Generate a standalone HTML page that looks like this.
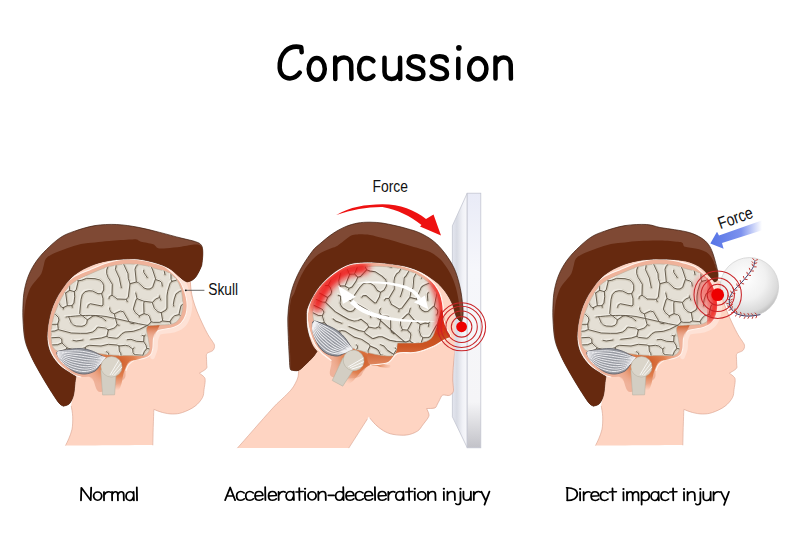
<!DOCTYPE html>
<html><head><meta charset="utf-8"><style>
html,body{margin:0;padding:0;background:#fff;}
body{width:800px;height:545px;overflow:hidden;position:relative;}
svg{position:absolute;left:0;top:0;}
</style></head><body>
<svg width="800" height="545" viewBox="0 0 800 545">
<defs>
<linearGradient id="glassL" x1="0" y1="0" x2="1" y2="0"><stop offset="0" stop-color="#e4e6ef"/><stop offset="0.3" stop-color="#d8dbe4"/><stop offset="0.7" stop-color="#f1f2f7"/><stop offset="1" stop-color="#f8f8fb"/></linearGradient>
<linearGradient id="glassF" x1="0" y1="0" x2="0" y2="1"><stop offset="0" stop-color="#e9ebf7"/><stop offset="0.3" stop-color="#f6f7fb"/><stop offset="0.82" stop-color="#f5f5f7"/><stop offset="1" stop-color="#c2c2c8"/></linearGradient>
<radialGradient id="ball" cx="0.42" cy="0.36" r="0.72"><stop offset="0" stop-color="#ffffff"/><stop offset="0.5" stop-color="#f1f1f1"/><stop offset="0.8" stop-color="#dadada"/><stop offset="1" stop-color="#aaaaaa"/></radialGradient>
<linearGradient id="blue" x1="710" y1="0" x2="762" y2="0" gradientUnits="userSpaceOnUse"><stop offset="0" stop-color="#5574e6"/><stop offset="0.6" stop-color="#7d92ee"/><stop offset="1" stop-color="#ffffff"/></linearGradient>
<radialGradient id="orng" cx="0.5" cy="0.25" r="0.6"><stop offset="0" stop-color="#cf5a26"/><stop offset="0.5" stop-color="#e0804f"/><stop offset="1" stop-color="#f0ae94" stop-opacity="0"/></radialGradient>
<linearGradient id="notch" x1="0" y1="0" x2="0" y2="1"><stop offset="0" stop-color="#c9531f"/><stop offset="1" stop-color="#efb29a" stop-opacity="0"/></linearGradient>
<clipPath id="brainclip"><path d="M130,264 C134.5,264.1 140.8,264.8 145,265.5 C149.2,266.2 151,267.3 155,268.5 C159,269.7 165.3,270.9 168.8,272.7 C172.3,274.5 174.1,276.5 176.1,279.1 C178.1,281.7 179.6,284.9 180.7,288.3 C181.8,291.7 182.2,296 182.5,299.3 C182.8,302.6 182.9,305.2 182.6,308 C182.3,310.8 181.5,313.7 180.5,316 C179.5,318.3 178.3,320.4 176.5,321.8 C174.7,323.2 172.5,323.9 169.6,324.4 C166.7,324.9 163,324.8 159.3,325 C155.7,325.2 149.6,325.6 147.7,325.7 C147.5,326.4 146.3,327.2 146.4,329.6 C146.5,332 148,336.6 148.5,340 C149,343.4 149.9,347.5 149.3,350 C148.7,352.5 146.7,354.1 145,355 C143.3,355.9 142.8,355.4 139,355.5 C135.2,355.6 128,355.7 122.5,355.5 C117,355.3 111.5,355.1 106,354.5 C100.5,353.9 95,352.9 89.5,352 C84,351.1 77.6,349.2 73,349 C68.4,348.8 64.9,350.8 62,351 C59.1,351.2 57.2,351.2 55.5,350 C53.8,348.8 52.7,347.3 52,344 C51.3,340.7 51.2,334.7 51.5,330 C51.8,325.3 52.6,320.8 54,316 C55.4,311.2 57.8,305.6 60,301 C62.2,296.4 65,291.8 67.5,288.5 C70,285.2 71.2,283.9 75,281.5 C78.8,279.1 84.8,276.3 90,274 C95.2,271.7 101.3,269 106,267.5 C110.7,266 114,265.6 118,265 C122,264.4 125.5,263.9 130,264Z"/></clipPath>
<radialGradient id="redglow"><stop offset="0" stop-color="#ff1010" stop-opacity="0.95"/><stop offset="0.5" stop-color="#f22" stop-opacity="0.6"/><stop offset="1" stop-color="#f33" stop-opacity="0"/></radialGradient>
<clipPath id="brain2clip"><path d="M348,269 C352.2,267.6 357.5,267.4 362,267 C366.5,266.6 370.3,266.3 375,266.3 C379.7,266.3 385.3,266.5 390,267 C394.7,267.5 399,268.5 403,269.5 C407,270.5 411,271.8 414,273 C417,274.2 418.7,275.5 421,277 C423.3,278.5 425.9,280.1 428,282 C430.1,283.9 431.9,286.2 433.5,288.5 C435.1,290.8 436.5,293.4 437.5,296 C438.5,298.6 439.1,301.2 439.5,304 C439.9,306.8 440.1,310 439.8,313 C439.5,316 439.1,318.1 437.9,322 C436.7,325.9 434.8,333.3 432.4,336.7 C429.9,340.1 427.5,341.1 423.2,342.2 C418.9,343.2 411,342.9 406.7,343 C402.4,343.1 399,343 397.5,343 C396.9,345 396.9,353 393.9,355 C390.9,357 383.9,355.5 379.3,355 C374.7,354.5 370.6,353.2 366,352 C361.4,350.8 355.7,349.5 351.4,347.5 C347.1,345.5 344.4,342.9 340,340 C335.6,337.1 329.2,333 325,330 C320.8,327 316.5,325.3 314.5,322 C312.5,318.7 312.8,313.7 313,310 C313.2,306.3 314.2,303.2 315.5,300 C316.8,296.8 318.5,293.8 320.5,291 C322.5,288.2 324.8,285.6 327.5,283 C330.2,280.4 333.6,277.8 337,275.5 C340.4,273.2 343.8,270.4 348,269Z"/></clipPath>
<clipPath id="skull3clip"><path d="M179.8,281 C181.5,283.4 182.3,285.6 183.4,288.3 C184.5,291 185.6,294.4 186.2,297.4 C186.8,300.3 187.3,303.1 187.2,306 C187.1,308.9 186.8,312.1 185.8,315 C184.8,317.9 183.2,321 181.1,323.1 C179,325.2 177,326.4 173.4,327.6 C169.8,328.8 162.3,329.2 159.3,330.2 C156.3,331.2 156.4,332 155.4,333.4 C154.4,334.8 153.9,335.9 153.5,338.5 C153.1,341.1 153.3,346 152.8,348.8 C152.3,351.6 151.8,353.6 150.3,355.2 C148.8,356.8 146.4,357.7 143.9,358.5 C141.4,359.3 138.1,358.9 135.6,359.8 C133.1,360.8 130.7,362.4 129,364.2 C127.3,366 126.7,368.2 125.7,370.8 C124.7,373.4 127.3,376.5 123,380 C118.7,383.5 105.2,392.3 100,392 C94.8,391.7 95.1,380.5 92,378 C88.9,375.5 84.5,377.6 81.3,377 C78.1,376.4 76.3,376.3 73,374.5 C69.7,372.7 64.8,369.3 61.5,366.2 C58.2,363.1 55.4,359.9 53.2,356 C51,352.1 49.3,347.4 48.3,343 C47.3,338.6 47.1,334.1 47.4,329.3 C47.7,324.5 48.5,319.6 50,314.4 C51.5,309.2 54,302.9 56.5,298 C59,293.1 62,288.1 64.8,284.7 C67.5,281.2 68.9,279.8 73,277.3 C77.1,274.8 84,272.2 89.5,269.9 C95,267.6 100.9,265 106,263.3 C111.1,261.6 116,260.5 120,259.8 C124,259.1 125.9,258.8 130,259 C134.1,259.2 140.6,260.1 144.8,260.8 C149,261.5 151.8,262.4 155,263.3 C158.2,264.2 161.1,264.6 164.2,266.3 C167.2,268 170.7,271.2 173.3,273.6 C175.9,276.1 178.1,278.6 179.8,281Z"/></clipPath>
<clipPath id="skull2clip"><path d="M307.3,319.4 C307.1,315.5 307.7,311.1 308.5,307.5 C309.3,303.9 310.7,300.8 312,298 C313.3,295.2 314.9,293.1 316.5,290.8 C318.1,288.6 319.7,286.6 321.5,284.5 C323.3,282.4 325.6,280.2 327.5,278.5 C329.4,276.8 331.2,275.4 333,274 C334.8,272.6 336.7,271.4 338.5,270.2 C340.3,269 342.2,267.9 344,267 C345.8,266.1 347.7,265.3 349.5,264.7 C351.3,264.1 353.2,263.9 355,263.6 C356.8,263.3 357.2,263.1 360.5,262.9 C363.8,262.7 370.1,262.4 375,262.5 C379.9,262.6 385.3,262.9 390,263.5 C394.7,264.1 399,265 403,266 C407,267 410.9,268.2 414,269.5 C417.1,270.8 419.4,272 421.9,273.5 C424.4,275 426.8,276.6 429,278.5 C431.2,280.4 433.2,282.5 435,285 C436.8,287.5 438.8,290.5 440,293.5 C441.2,296.5 441.9,299.8 442.5,303 C443.1,306.2 443.2,309.8 443.5,313 C443.8,316.2 443.8,319.2 444.5,322 C445.2,324.8 446.5,327.6 447.5,330 C448.5,332.4 451.4,335 450.7,336.7 C450,338.4 446.1,338.9 443.4,340.4 C440.6,341.9 438.8,343.9 434.2,345.9 C429.6,347.9 422,351.1 415.9,352.3 C409.8,353.5 402.1,351.5 397.5,353.2 C392.9,354.9 392.9,360.4 388.3,362.4 C383.7,364.4 374.1,363.6 370,365 C365.9,366.4 366.1,368.6 364,370.7 C361.9,372.8 362.6,376.4 357.2,377.4 C351.8,378.4 335.7,379.4 331.4,376.6 C327.1,373.8 332.9,364.5 331.3,360.6 C329.7,356.7 324.8,355.8 322,353.1 C319.2,350.4 316.8,348 314.7,344.3 C312.6,340.6 310.7,335.2 309.5,331.1 C308.3,327 307.5,323.3 307.3,319.4Z"/></clipPath>
<g id="tex" fill="none" stroke-linecap="round" stroke-linejoin="round"><path d="M159.3,353.0 163.7,351.3 165.7,348.3 M144.0,301.3 137.3,298.7 M67.3,265.3 71.0,269.3 76.3,279.3 78.3,280.7 M189.3,316.0 191.0,318.0 M175.0,327.7 174.3,330.3 171.0,335.0 170.7,337.0 171.3,338.7 176.7,344.0 180.7,345.3 M78.3,281.0 76.3,289.7 74.3,291.7 M46.0,325.0 46.7,324.3 57.7,324.3 M81.0,361.0 84.7,359.3 87.0,360.3 M143.0,255.7 141.7,256.7 140.7,260.7 136.0,266.7 135.0,269.3 136.3,281.7 M144.7,301.3 152.0,302.3 M162.0,361.3 170.0,360.0 176.0,353.3 179.0,351.7 190.3,350.3 M109.0,298.7 109.3,296.7 111.7,295.3 M146.7,348.0 146.0,345.3 143.7,341.7 M144.3,313.7 147.7,314.7 149.3,316.3 151.0,321.3 M108.3,330.0 105.3,328.0 97.7,327.0 95.7,329.7 92.7,332.0 87.0,333.3 80.3,333.3 71.3,333.0 58.7,329.7 M108.3,330.0 113.7,328.3 115.3,327.3 117.0,325.0 M108.3,330.0 107.0,336.0 M73.3,255.0 75.0,256.7 75.0,258.7 77.3,264.0 80.7,267.0 88.0,266.0 96.0,267.0 99.0,266.3 100.3,264.0 101.3,256.3 M117.3,299.0 112.3,295.3 M97.0,358.0 95.0,353.7 93.0,352.7 87.3,351.7 85.7,350.0 85.3,348.3 M155.3,279.7 152.7,287.3 150.0,289.0 147.0,289.0 144.0,288.0 138.3,282.7 136.7,282.0 M57.7,324.3 59.0,320.0 58.3,317.3 55.3,314.3 52.7,313.3 M57.7,324.3 58.3,329.3 M118.0,361.3 121.0,359.0 121.3,357.0 120.7,353.3 119.3,351.0 119.0,346.0 M173.7,306.0 173.3,304.3 174.3,299.0 176.0,294.0 179.7,291.3 188.0,289.0 190.3,287.3 191.0,284.3 190.7,269.3 190.0,267.7 185.3,264.0 184.7,260.3 185.0,256.7 185.7,256.0 190.0,255.7 191.0,257.3 M119.0,346.0 117.0,345.0 108.3,344.3 101.0,346.0 89.7,345.3 86.3,346.3 85.3,347.7 M119.0,346.0 125.3,345.3 128.7,346.0 132.3,348.7 M154.7,255.0 156.3,256.7 158.3,264.0 164.0,270.0 165.0,274.7 M144.3,301.7 143.7,303.3 144.0,313.3 M52.0,271.3 52.0,261.0 51.3,256.7 50.0,256.0 45.7,256.3 M156.0,279.7 160.0,281.0 161.7,282.7 162.3,286.0 M143.0,355.7 144.3,357.3 146.3,358.3 153.3,358.3 157.0,357.0 158.3,355.7 159.0,353.3 M58.0,329.7 54.7,331.0 46.3,331.7 M117.0,324.3 114.3,314.0 M139.7,315.7 144.0,313.7 M185.0,278.0 183.0,276.0 180.0,275.7 M147.0,348.3 154.7,350.3 159.0,353.0 M127.3,301.7 126.3,299.7 M90.7,339.3 101.3,338.0 106.7,336.3 M51.7,271.7 49.3,273.7 47.0,278.7 48.7,283.0 50.3,291.0 M134.0,323.7 131.0,323.3 129.3,322.0 123.3,311.7 120.3,311.0 114.7,313.7 M130.0,283.7 128.3,278.7 128.0,273.7 123.7,264.3 123.7,256.3 M52.3,271.7 54.7,273.3 55.3,275.0 55.3,281.0 M109.7,308.0 109.7,309.7 111.0,312.0 114.0,313.7 M136.3,282.0 130.3,283.7 M144.3,336.0 145.3,335.3 M184.7,336.0 186.0,334.3 190.7,334.0 M184.7,336.0 186.0,339.7 190.0,343.0 190.7,344.3 M84.0,347.7 85.0,348.0 M72.3,307.3 72.0,306.0 M117.3,324.7 119.0,325.3 M67.0,265.3 61.3,265.7 59.7,264.0 59.0,262.3 59.0,256.7 60.7,255.3 M161.3,312.7 166.0,310.0 167.0,308.0 167.0,296.0 167.7,291.3 170.0,283.7 172.0,281.3 M144.0,336.3 143.7,341.3 M106.3,351.7 107.7,352.3 108.7,354.0 108.7,358.7 105.0,361.3 M67.0,347.7 62.0,343.0 M159.3,297.3 159.3,296.0 M46.0,350.0 46.7,351.3 M90.3,255.3 92.0,256.3 93.7,256.3 95.7,255.0 M56.0,292.3 60.3,289.7 M45.3,319.0 47.7,316.0 52.3,313.3 M151.0,322.0 148.7,324.7 139.7,329.3 133.3,331.3 125.0,332.0 122.0,333.7 118.3,337.7 116.7,338.3 108.3,337.3 107.0,336.3 M45.3,269.3 46.0,265.7 45.0,262.0 M86.7,255.3 83.7,256.7 81.7,255.7 M69.7,290.0 68.7,282.0 66.7,279.0 64.0,278.0 M83.0,340.0 76.3,341.0 73.0,340.3 M170.0,322.0 171.0,324.0 174.7,327.3 M139.3,317.0 139.3,316.0 M65.3,293.0 61.0,289.7 M165.7,348.3 163.7,345.3 159.7,343.0 157.3,340.7 156.7,338.3 156.7,332.3 160.0,329.3 163.0,328.7 M132.7,349.0 133.0,352.7 134.0,354.0 135.3,354.7 142.7,355.3 M112.0,295.0 112.3,284.3 108.0,277.3 106.7,273.7 106.7,270.0 108.0,266.7 108.0,258.7 108.3,256.7 109.0,256.3 M162.3,321.0 159.7,322.3 153.3,322.3 151.3,321.7 M66.7,255.3 67.7,256.3 67.3,265.0 M74.3,354.3 73.0,356.7 69.0,359.7 60.3,358.0 58.7,357.0 M175.3,327.3 184.0,324.7 190.7,328.0 M163.0,321.0 169.7,321.7 M149.0,256.3 148.7,259.7 149.3,262.7 152.7,270.0 155.7,279.3 M121.3,287.7 119.3,278.0 115.3,269.3 116.0,267.0 116.3,256.7 M143.3,341.7 136.7,341.3 131.0,339.3 127.3,339.7 M63.3,307.7 61.3,307.0 59.0,303.7 56.0,292.7 M63.3,307.7 67.3,305.7 M63.3,307.7 63.3,309.0 M55.7,292.3 50.7,291.3 M143.7,270.3 143.7,272.3 147.3,277.7 M71.7,305.7 67.7,305.7 M137.0,298.7 136.0,300.0 133.3,309.0 135.0,312.3 139.0,315.7 M139.0,361.7 134.0,360.3 129.7,361.3 M161.3,313.0 162.7,320.7 M101.7,293.7 103.7,290.0 103.7,285.7 102.7,283.0 100.0,280.0 95.0,278.7 86.7,278.3 81.7,280.3 78.7,280.7 M189.3,315.3 190.7,313.3 M146.7,348.7 144.3,351.7 143.0,355.0 M51.3,301.7 52.3,313.0 M176.7,255.7 177.7,256.7 177.7,264.7 178.7,273.0 180.0,275.7 M65.7,293.0 69.7,290.3 M62.0,342.7 61.7,339.0 59.0,337.3 47.7,338.0 46.7,338.3 45.7,340.0 46.0,343.7 50.7,345.0 57.7,344.7 61.7,343.0 M67.3,305.3 65.7,293.3 M87.3,319.7 79.7,313.7 81.0,299.7 82.3,294.7 85.0,291.7 89.0,290.7 92.7,291.0 98.0,293.7 101.3,293.7 M50.0,291.3 46.0,295.0 45.7,307.3 45.0,308.7 M137.0,298.3 135.7,293.0 M162.3,255.3 163.7,256.3 169.7,256.7 171.0,265.7 171.0,279.3 172.0,281.3 M170.0,321.7 172.0,318.3 174.7,315.7 178.7,314.7 M134.0,348.0 133.0,348.7 M46.7,351.3 46.0,355.3 46.7,358.3 54.0,358.7 56.3,358.3 58.0,357.0 M87.7,307.3 88.0,305.3 90.3,303.7 102.0,306.0 103.0,305.0 103.0,298.7 101.7,294.0 M67.3,348.0 72.3,349.3 73.7,351.0 74.3,353.7 M72.0,305.7 74.0,303.0 74.7,296.7 74.3,291.7 M159.0,297.7 155.7,299.0 152.7,302.3 M126.3,299.3 128.3,297.3 130.0,284.0 M70.0,290.3 74.3,291.7 M160.7,300.0 159.7,297.7 M179.3,314.7 180.3,315.3 186.3,316.0 189.0,315.7 M142.0,335.3 144.0,336.0 M105.7,320.7 102.0,317.7 96.0,315.7 93.0,316.0 87.7,319.7 M152.3,302.7 154.3,308.3 158.0,311.7 161.0,312.7 M117.7,299.0 126.0,299.3 M190.3,357.3 186.7,358.0 184.0,360.0 181.0,361.0 M179.0,314.3 181.0,305.7 184.3,303.3 189.0,302.3 191.3,298.7 M67.0,348.0 65.3,349.7 59.7,351.7 58.3,353.3 58.3,356.7 M172.0,281.3 176.3,280.3 180.0,275.7 M63.7,278.0 62.3,279.0 61.3,281.3 60.7,289.3 M87.3,320.0 86.7,323.3 85.0,325.3 82.0,326.3 76.3,326.0 73.7,325.0 71.3,323.0 68.7,317.0 M134.3,255.0 131.3,257.0 130.7,261.3 M148,325.5 C136,323.5 121,319.5 106,316.5 C92,314.5 79,315.5 66,317" stroke="#d2cbbd" stroke-width="3.4"/><path d="M159.3,353.0 163.7,351.3 165.7,348.3 M144.0,301.3 137.3,298.7 M67.3,265.3 71.0,269.3 76.3,279.3 78.3,280.7 M189.3,316.0 191.0,318.0 M175.0,327.7 174.3,330.3 171.0,335.0 170.7,337.0 171.3,338.7 176.7,344.0 180.7,345.3 M78.3,281.0 76.3,289.7 74.3,291.7 M46.0,325.0 46.7,324.3 57.7,324.3 M81.0,361.0 84.7,359.3 87.0,360.3 M143.0,255.7 141.7,256.7 140.7,260.7 136.0,266.7 135.0,269.3 136.3,281.7 M144.7,301.3 152.0,302.3 M162.0,361.3 170.0,360.0 176.0,353.3 179.0,351.7 190.3,350.3 M109.0,298.7 109.3,296.7 111.7,295.3 M146.7,348.0 146.0,345.3 143.7,341.7 M144.3,313.7 147.7,314.7 149.3,316.3 151.0,321.3 M108.3,330.0 105.3,328.0 97.7,327.0 95.7,329.7 92.7,332.0 87.0,333.3 80.3,333.3 71.3,333.0 58.7,329.7 M108.3,330.0 113.7,328.3 115.3,327.3 117.0,325.0 M108.3,330.0 107.0,336.0 M73.3,255.0 75.0,256.7 75.0,258.7 77.3,264.0 80.7,267.0 88.0,266.0 96.0,267.0 99.0,266.3 100.3,264.0 101.3,256.3 M117.3,299.0 112.3,295.3 M97.0,358.0 95.0,353.7 93.0,352.7 87.3,351.7 85.7,350.0 85.3,348.3 M155.3,279.7 152.7,287.3 150.0,289.0 147.0,289.0 144.0,288.0 138.3,282.7 136.7,282.0 M57.7,324.3 59.0,320.0 58.3,317.3 55.3,314.3 52.7,313.3 M57.7,324.3 58.3,329.3 M118.0,361.3 121.0,359.0 121.3,357.0 120.7,353.3 119.3,351.0 119.0,346.0 M173.7,306.0 173.3,304.3 174.3,299.0 176.0,294.0 179.7,291.3 188.0,289.0 190.3,287.3 191.0,284.3 190.7,269.3 190.0,267.7 185.3,264.0 184.7,260.3 185.0,256.7 185.7,256.0 190.0,255.7 191.0,257.3 M119.0,346.0 117.0,345.0 108.3,344.3 101.0,346.0 89.7,345.3 86.3,346.3 85.3,347.7 M119.0,346.0 125.3,345.3 128.7,346.0 132.3,348.7 M154.7,255.0 156.3,256.7 158.3,264.0 164.0,270.0 165.0,274.7 M144.3,301.7 143.7,303.3 144.0,313.3 M52.0,271.3 52.0,261.0 51.3,256.7 50.0,256.0 45.7,256.3 M156.0,279.7 160.0,281.0 161.7,282.7 162.3,286.0 M143.0,355.7 144.3,357.3 146.3,358.3 153.3,358.3 157.0,357.0 158.3,355.7 159.0,353.3 M58.0,329.7 54.7,331.0 46.3,331.7 M117.0,324.3 114.3,314.0 M139.7,315.7 144.0,313.7 M185.0,278.0 183.0,276.0 180.0,275.7 M147.0,348.3 154.7,350.3 159.0,353.0 M127.3,301.7 126.3,299.7 M90.7,339.3 101.3,338.0 106.7,336.3 M51.7,271.7 49.3,273.7 47.0,278.7 48.7,283.0 50.3,291.0 M134.0,323.7 131.0,323.3 129.3,322.0 123.3,311.7 120.3,311.0 114.7,313.7 M130.0,283.7 128.3,278.7 128.0,273.7 123.7,264.3 123.7,256.3 M52.3,271.7 54.7,273.3 55.3,275.0 55.3,281.0 M109.7,308.0 109.7,309.7 111.0,312.0 114.0,313.7 M136.3,282.0 130.3,283.7 M144.3,336.0 145.3,335.3 M184.7,336.0 186.0,334.3 190.7,334.0 M184.7,336.0 186.0,339.7 190.0,343.0 190.7,344.3 M84.0,347.7 85.0,348.0 M72.3,307.3 72.0,306.0 M117.3,324.7 119.0,325.3 M67.0,265.3 61.3,265.7 59.7,264.0 59.0,262.3 59.0,256.7 60.7,255.3 M161.3,312.7 166.0,310.0 167.0,308.0 167.0,296.0 167.7,291.3 170.0,283.7 172.0,281.3 M144.0,336.3 143.7,341.3 M106.3,351.7 107.7,352.3 108.7,354.0 108.7,358.7 105.0,361.3 M67.0,347.7 62.0,343.0 M159.3,297.3 159.3,296.0 M46.0,350.0 46.7,351.3 M90.3,255.3 92.0,256.3 93.7,256.3 95.7,255.0 M56.0,292.3 60.3,289.7 M45.3,319.0 47.7,316.0 52.3,313.3 M151.0,322.0 148.7,324.7 139.7,329.3 133.3,331.3 125.0,332.0 122.0,333.7 118.3,337.7 116.7,338.3 108.3,337.3 107.0,336.3 M45.3,269.3 46.0,265.7 45.0,262.0 M86.7,255.3 83.7,256.7 81.7,255.7 M69.7,290.0 68.7,282.0 66.7,279.0 64.0,278.0 M83.0,340.0 76.3,341.0 73.0,340.3 M170.0,322.0 171.0,324.0 174.7,327.3 M139.3,317.0 139.3,316.0 M65.3,293.0 61.0,289.7 M165.7,348.3 163.7,345.3 159.7,343.0 157.3,340.7 156.7,338.3 156.7,332.3 160.0,329.3 163.0,328.7 M132.7,349.0 133.0,352.7 134.0,354.0 135.3,354.7 142.7,355.3 M112.0,295.0 112.3,284.3 108.0,277.3 106.7,273.7 106.7,270.0 108.0,266.7 108.0,258.7 108.3,256.7 109.0,256.3 M162.3,321.0 159.7,322.3 153.3,322.3 151.3,321.7 M66.7,255.3 67.7,256.3 67.3,265.0 M74.3,354.3 73.0,356.7 69.0,359.7 60.3,358.0 58.7,357.0 M175.3,327.3 184.0,324.7 190.7,328.0 M163.0,321.0 169.7,321.7 M149.0,256.3 148.7,259.7 149.3,262.7 152.7,270.0 155.7,279.3 M121.3,287.7 119.3,278.0 115.3,269.3 116.0,267.0 116.3,256.7 M143.3,341.7 136.7,341.3 131.0,339.3 127.3,339.7 M63.3,307.7 61.3,307.0 59.0,303.7 56.0,292.7 M63.3,307.7 67.3,305.7 M63.3,307.7 63.3,309.0 M55.7,292.3 50.7,291.3 M143.7,270.3 143.7,272.3 147.3,277.7 M71.7,305.7 67.7,305.7 M137.0,298.7 136.0,300.0 133.3,309.0 135.0,312.3 139.0,315.7 M139.0,361.7 134.0,360.3 129.7,361.3 M161.3,313.0 162.7,320.7 M101.7,293.7 103.7,290.0 103.7,285.7 102.7,283.0 100.0,280.0 95.0,278.7 86.7,278.3 81.7,280.3 78.7,280.7 M189.3,315.3 190.7,313.3 M146.7,348.7 144.3,351.7 143.0,355.0 M51.3,301.7 52.3,313.0 M176.7,255.7 177.7,256.7 177.7,264.7 178.7,273.0 180.0,275.7 M65.7,293.0 69.7,290.3 M62.0,342.7 61.7,339.0 59.0,337.3 47.7,338.0 46.7,338.3 45.7,340.0 46.0,343.7 50.7,345.0 57.7,344.7 61.7,343.0 M67.3,305.3 65.7,293.3 M87.3,319.7 79.7,313.7 81.0,299.7 82.3,294.7 85.0,291.7 89.0,290.7 92.7,291.0 98.0,293.7 101.3,293.7 M50.0,291.3 46.0,295.0 45.7,307.3 45.0,308.7 M137.0,298.3 135.7,293.0 M162.3,255.3 163.7,256.3 169.7,256.7 171.0,265.7 171.0,279.3 172.0,281.3 M170.0,321.7 172.0,318.3 174.7,315.7 178.7,314.7 M134.0,348.0 133.0,348.7 M46.7,351.3 46.0,355.3 46.7,358.3 54.0,358.7 56.3,358.3 58.0,357.0 M87.7,307.3 88.0,305.3 90.3,303.7 102.0,306.0 103.0,305.0 103.0,298.7 101.7,294.0 M67.3,348.0 72.3,349.3 73.7,351.0 74.3,353.7 M72.0,305.7 74.0,303.0 74.7,296.7 74.3,291.7 M159.0,297.7 155.7,299.0 152.7,302.3 M126.3,299.3 128.3,297.3 130.0,284.0 M70.0,290.3 74.3,291.7 M160.7,300.0 159.7,297.7 M179.3,314.7 180.3,315.3 186.3,316.0 189.0,315.7 M142.0,335.3 144.0,336.0 M105.7,320.7 102.0,317.7 96.0,315.7 93.0,316.0 87.7,319.7 M152.3,302.7 154.3,308.3 158.0,311.7 161.0,312.7 M117.7,299.0 126.0,299.3 M190.3,357.3 186.7,358.0 184.0,360.0 181.0,361.0 M179.0,314.3 181.0,305.7 184.3,303.3 189.0,302.3 191.3,298.7 M67.0,348.0 65.3,349.7 59.7,351.7 58.3,353.3 58.3,356.7 M172.0,281.3 176.3,280.3 180.0,275.7 M63.7,278.0 62.3,279.0 61.3,281.3 60.7,289.3 M87.3,320.0 86.7,323.3 85.0,325.3 82.0,326.3 76.3,326.0 73.7,325.0 71.3,323.0 68.7,317.0 M134.3,255.0 131.3,257.0 130.7,261.3 M148,325.5 C136,323.5 121,319.5 106,316.5 C92,314.5 79,315.5 66,317" stroke="#f1ede6" stroke-width="1.6" transform="translate(-1.2,-1.1)" opacity="0.9"/><path d="M159.3,353.0 163.7,351.3 165.7,348.3 M144.0,301.3 137.3,298.7 M67.3,265.3 71.0,269.3 76.3,279.3 78.3,280.7 M189.3,316.0 191.0,318.0 M175.0,327.7 174.3,330.3 171.0,335.0 170.7,337.0 171.3,338.7 176.7,344.0 180.7,345.3 M78.3,281.0 76.3,289.7 74.3,291.7 M46.0,325.0 46.7,324.3 57.7,324.3 M81.0,361.0 84.7,359.3 87.0,360.3 M143.0,255.7 141.7,256.7 140.7,260.7 136.0,266.7 135.0,269.3 136.3,281.7 M144.7,301.3 152.0,302.3 M162.0,361.3 170.0,360.0 176.0,353.3 179.0,351.7 190.3,350.3 M109.0,298.7 109.3,296.7 111.7,295.3 M146.7,348.0 146.0,345.3 143.7,341.7 M144.3,313.7 147.7,314.7 149.3,316.3 151.0,321.3 M108.3,330.0 105.3,328.0 97.7,327.0 95.7,329.7 92.7,332.0 87.0,333.3 80.3,333.3 71.3,333.0 58.7,329.7 M108.3,330.0 113.7,328.3 115.3,327.3 117.0,325.0 M108.3,330.0 107.0,336.0 M73.3,255.0 75.0,256.7 75.0,258.7 77.3,264.0 80.7,267.0 88.0,266.0 96.0,267.0 99.0,266.3 100.3,264.0 101.3,256.3 M117.3,299.0 112.3,295.3 M97.0,358.0 95.0,353.7 93.0,352.7 87.3,351.7 85.7,350.0 85.3,348.3 M155.3,279.7 152.7,287.3 150.0,289.0 147.0,289.0 144.0,288.0 138.3,282.7 136.7,282.0 M57.7,324.3 59.0,320.0 58.3,317.3 55.3,314.3 52.7,313.3 M57.7,324.3 58.3,329.3 M118.0,361.3 121.0,359.0 121.3,357.0 120.7,353.3 119.3,351.0 119.0,346.0 M173.7,306.0 173.3,304.3 174.3,299.0 176.0,294.0 179.7,291.3 188.0,289.0 190.3,287.3 191.0,284.3 190.7,269.3 190.0,267.7 185.3,264.0 184.7,260.3 185.0,256.7 185.7,256.0 190.0,255.7 191.0,257.3 M119.0,346.0 117.0,345.0 108.3,344.3 101.0,346.0 89.7,345.3 86.3,346.3 85.3,347.7 M119.0,346.0 125.3,345.3 128.7,346.0 132.3,348.7 M154.7,255.0 156.3,256.7 158.3,264.0 164.0,270.0 165.0,274.7 M144.3,301.7 143.7,303.3 144.0,313.3 M52.0,271.3 52.0,261.0 51.3,256.7 50.0,256.0 45.7,256.3 M156.0,279.7 160.0,281.0 161.7,282.7 162.3,286.0 M143.0,355.7 144.3,357.3 146.3,358.3 153.3,358.3 157.0,357.0 158.3,355.7 159.0,353.3 M58.0,329.7 54.7,331.0 46.3,331.7 M117.0,324.3 114.3,314.0 M139.7,315.7 144.0,313.7 M185.0,278.0 183.0,276.0 180.0,275.7 M147.0,348.3 154.7,350.3 159.0,353.0 M127.3,301.7 126.3,299.7 M90.7,339.3 101.3,338.0 106.7,336.3 M51.7,271.7 49.3,273.7 47.0,278.7 48.7,283.0 50.3,291.0 M134.0,323.7 131.0,323.3 129.3,322.0 123.3,311.7 120.3,311.0 114.7,313.7 M130.0,283.7 128.3,278.7 128.0,273.7 123.7,264.3 123.7,256.3 M52.3,271.7 54.7,273.3 55.3,275.0 55.3,281.0 M109.7,308.0 109.7,309.7 111.0,312.0 114.0,313.7 M136.3,282.0 130.3,283.7 M144.3,336.0 145.3,335.3 M184.7,336.0 186.0,334.3 190.7,334.0 M184.7,336.0 186.0,339.7 190.0,343.0 190.7,344.3 M84.0,347.7 85.0,348.0 M72.3,307.3 72.0,306.0 M117.3,324.7 119.0,325.3 M67.0,265.3 61.3,265.7 59.7,264.0 59.0,262.3 59.0,256.7 60.7,255.3 M161.3,312.7 166.0,310.0 167.0,308.0 167.0,296.0 167.7,291.3 170.0,283.7 172.0,281.3 M144.0,336.3 143.7,341.3 M106.3,351.7 107.7,352.3 108.7,354.0 108.7,358.7 105.0,361.3 M67.0,347.7 62.0,343.0 M159.3,297.3 159.3,296.0 M46.0,350.0 46.7,351.3 M90.3,255.3 92.0,256.3 93.7,256.3 95.7,255.0 M56.0,292.3 60.3,289.7 M45.3,319.0 47.7,316.0 52.3,313.3 M151.0,322.0 148.7,324.7 139.7,329.3 133.3,331.3 125.0,332.0 122.0,333.7 118.3,337.7 116.7,338.3 108.3,337.3 107.0,336.3 M45.3,269.3 46.0,265.7 45.0,262.0 M86.7,255.3 83.7,256.7 81.7,255.7 M69.7,290.0 68.7,282.0 66.7,279.0 64.0,278.0 M83.0,340.0 76.3,341.0 73.0,340.3 M170.0,322.0 171.0,324.0 174.7,327.3 M139.3,317.0 139.3,316.0 M65.3,293.0 61.0,289.7 M165.7,348.3 163.7,345.3 159.7,343.0 157.3,340.7 156.7,338.3 156.7,332.3 160.0,329.3 163.0,328.7 M132.7,349.0 133.0,352.7 134.0,354.0 135.3,354.7 142.7,355.3 M112.0,295.0 112.3,284.3 108.0,277.3 106.7,273.7 106.7,270.0 108.0,266.7 108.0,258.7 108.3,256.7 109.0,256.3 M162.3,321.0 159.7,322.3 153.3,322.3 151.3,321.7 M66.7,255.3 67.7,256.3 67.3,265.0 M74.3,354.3 73.0,356.7 69.0,359.7 60.3,358.0 58.7,357.0 M175.3,327.3 184.0,324.7 190.7,328.0 M163.0,321.0 169.7,321.7 M149.0,256.3 148.7,259.7 149.3,262.7 152.7,270.0 155.7,279.3 M121.3,287.7 119.3,278.0 115.3,269.3 116.0,267.0 116.3,256.7 M143.3,341.7 136.7,341.3 131.0,339.3 127.3,339.7 M63.3,307.7 61.3,307.0 59.0,303.7 56.0,292.7 M63.3,307.7 67.3,305.7 M63.3,307.7 63.3,309.0 M55.7,292.3 50.7,291.3 M143.7,270.3 143.7,272.3 147.3,277.7 M71.7,305.7 67.7,305.7 M137.0,298.7 136.0,300.0 133.3,309.0 135.0,312.3 139.0,315.7 M139.0,361.7 134.0,360.3 129.7,361.3 M161.3,313.0 162.7,320.7 M101.7,293.7 103.7,290.0 103.7,285.7 102.7,283.0 100.0,280.0 95.0,278.7 86.7,278.3 81.7,280.3 78.7,280.7 M189.3,315.3 190.7,313.3 M146.7,348.7 144.3,351.7 143.0,355.0 M51.3,301.7 52.3,313.0 M176.7,255.7 177.7,256.7 177.7,264.7 178.7,273.0 180.0,275.7 M65.7,293.0 69.7,290.3 M62.0,342.7 61.7,339.0 59.0,337.3 47.7,338.0 46.7,338.3 45.7,340.0 46.0,343.7 50.7,345.0 57.7,344.7 61.7,343.0 M67.3,305.3 65.7,293.3 M87.3,319.7 79.7,313.7 81.0,299.7 82.3,294.7 85.0,291.7 89.0,290.7 92.7,291.0 98.0,293.7 101.3,293.7 M50.0,291.3 46.0,295.0 45.7,307.3 45.0,308.7 M137.0,298.3 135.7,293.0 M162.3,255.3 163.7,256.3 169.7,256.7 171.0,265.7 171.0,279.3 172.0,281.3 M170.0,321.7 172.0,318.3 174.7,315.7 178.7,314.7 M134.0,348.0 133.0,348.7 M46.7,351.3 46.0,355.3 46.7,358.3 54.0,358.7 56.3,358.3 58.0,357.0 M87.7,307.3 88.0,305.3 90.3,303.7 102.0,306.0 103.0,305.0 103.0,298.7 101.7,294.0 M67.3,348.0 72.3,349.3 73.7,351.0 74.3,353.7 M72.0,305.7 74.0,303.0 74.7,296.7 74.3,291.7 M159.0,297.7 155.7,299.0 152.7,302.3 M126.3,299.3 128.3,297.3 130.0,284.0 M70.0,290.3 74.3,291.7 M160.7,300.0 159.7,297.7 M179.3,314.7 180.3,315.3 186.3,316.0 189.0,315.7 M142.0,335.3 144.0,336.0 M105.7,320.7 102.0,317.7 96.0,315.7 93.0,316.0 87.7,319.7 M152.3,302.7 154.3,308.3 158.0,311.7 161.0,312.7 M117.7,299.0 126.0,299.3 M190.3,357.3 186.7,358.0 184.0,360.0 181.0,361.0 M179.0,314.3 181.0,305.7 184.3,303.3 189.0,302.3 191.3,298.7 M67.0,348.0 65.3,349.7 59.7,351.7 58.3,353.3 58.3,356.7 M172.0,281.3 176.3,280.3 180.0,275.7 M63.7,278.0 62.3,279.0 61.3,281.3 60.7,289.3 M87.3,320.0 86.7,323.3 85.0,325.3 82.0,326.3 76.3,326.0 73.7,325.0 71.3,323.0 68.7,317.0 M134.3,255.0 131.3,257.0 130.7,261.3 M148,325.5 C136,323.5 121,319.5 106,316.5 C92,314.5 79,315.5 66,317" stroke="#62584a" stroke-width="0.95"/></g>
<filter id="blur4" x="-50%" y="-50%" width="200%" height="200%"><feGaussianBlur stdDeviation="3.2"/></filter>
<filter id="blur2" x="-50%" y="-50%" width="200%" height="200%"><feGaussianBlur stdDeviation="2"/></filter>
<linearGradient id="band2" x1="0" y1="0" x2="0" y2="1"><stop offset="0" stop-color="#bb4215"/><stop offset="0.65" stop-color="#cc5523"/><stop offset="1" stop-color="#e08a62"/></linearGradient>
<clipPath id="clip2"><rect x="200" y="150" width="254.6" height="300"/></clipPath>
</defs>
<g fill="none" stroke="#000" stroke-width="4.5" stroke-linecap="round" stroke-linejoin="round">
<path d="M301.7,52.3 L301.2,47.2 C296,46 290,46.7 285.5,51 C280.8,55.8 279.4,62.5 279.7,68 C280.2,74.5 284.5,78.4 290,78.4 C294,78.4 297.5,76 299.8,72.6"/>
<ellipse cx="316.75" cy="68.9" rx="8.05" ry="10.8"/>
<path d="M335.2,57.6 L335.3,78.9 M335.5,63.5 C337.5,59.5 340.5,57.6 344,57.6 C348.5,57.6 351,60.5 351.2,64.5 L351.4,78.9"/>
<path d="M373.4,61 C371.5,58.7 369,58.1 366.5,58.1 C361.6,58.1 359.1,63 359.1,68.5 C359.1,74.5 362,78.9 366.6,78.9 C369.6,78.9 371.8,77.6 373.4,75.8"/>
<path d="M384.5,57.8 L384.5,72 C384.5,76.5 387.3,78.9 391.5,78.9 C395.8,78.9 399.4,76 400,71 M400,57.8 L400.2,78.9"/>
<path transform="translate(0,0)" d="M423.2,60.8 C422.8,57.6 420,56.3 416,56.3 C411.2,56.3 408.6,58.6 408.6,61.6 C408.6,65 412,66.5 416,67.5 C420.5,68.6 423.4,70.6 423.4,74 C423.4,77.5 420,78.9 416,78.9 C412,78.9 409.2,78 407.9,76.3"/>
<path transform="translate(23.6,0)" d="M423.2,60.8 C422.8,57.6 420,56.3 416,56.3 C411.2,56.3 408.6,58.6 408.6,61.6 C408.6,65 412,66.5 416,67.5 C420.5,68.6 423.4,70.6 423.4,74 C423.4,77.5 420,78.9 416,78.9 C412,78.9 409.2,78 407.9,76.3"/>
<path d="M458.3,58.8 L458.3,78.1"/>
<ellipse cx="477.8" cy="68.9" rx="8.6" ry="10.6"/>
<path d="M495.5,57.6 L495.5,78.5 M495.8,63.5 C497.8,59.3 500.5,57.4 503.5,57.4 C508,57.4 510.5,60.5 510.7,64.5 L510.9,78.6"/>
</g>
<circle cx="458.9" cy="47.9" r="2.8" fill="#000"/>
<g id="h1">
<path d="M153.8,405 C153.6,411.7 152.9,438.3 152.8,445 C138.2,445.1 80.2,445.5 65.7,445.6 C66.2,444.4 67.8,441.3 68.8,438.6 C69.8,435.9 71.3,432.8 72,429.2 C72.7,425.6 72.8,420.7 72.7,416.8 C72.6,412.9 71.5,407.7 71.2,405.9 C72,400.9 75.1,381.1 75.9,376.2 C86.6,376.8 129.3,379.4 140,380 C142.3,384.2 151.5,400.8 153.8,405Z" fill="#fed4c2"/>
<path d="M184,279 C185.1,279.4 189.2,279.9 190.4,281.6 C191.6,283.3 190.6,286.3 191,289.3 C191.4,292.3 192,296 193,299.6 C194,303.2 195.3,307 196.9,311.1 C198.5,315.2 200.8,320.1 202.6,324 C204.4,327.9 206.3,331.6 207.8,334.3 C209.3,337 210.4,338.2 211.5,340 C212.6,341.8 214.2,343.5 214.5,345.2 C214.8,346.9 214.2,349 213.1,350.3 C211.9,351.6 208.7,352.2 207.6,353 C206.5,353.8 206.5,354.7 206.3,355 C206.4,356.5 206.7,361.7 206.7,364 C206.7,366.3 207.5,367.1 206.3,368.6 C205.1,370.1 200.6,372.4 199.4,373.2 C200.2,373.8 203,375.7 204,376.9 C205,378.1 205.2,378.5 205.2,380.6 C205.2,382.7 204.4,386.9 204,389.7 C203.6,392.5 204,394.7 202.5,397.5 C201,400.3 198.3,403.8 195,406.2 C191.7,408.8 186.2,411.2 182.5,412.5 C178.8,413.8 175.8,414 172.5,414 C169.2,414 165.6,413.3 162.5,412.5 C159.4,411.7 155.2,409.9 153.8,409.4 C151.5,407.8 142.3,401.6 140,400 C133.3,400 106.7,400 100,400 C96,396 79.9,380.2 75.9,376.2 C70.8,368.5 50.1,337.7 45,330 C47.5,320 57.5,280 60,270 C70,266.7 110,253.3 120,250 C129.2,252.5 165.8,262.5 175,265 C176.5,267.3 182.5,276.7 184,279Z" fill="#fed4c2"/>
<path d="M190.4,281.6 C190.5,282.9 190.6,286.3 191,289.3 C191.4,292.3 192,296 193,299.6 C194,303.2 195.3,307 196.9,311.1 C198.5,315.2 200.8,320.1 202.6,324 C204.4,327.9 206.3,331.6 207.8,334.3 C209.3,337 210.4,338.2 211.5,340 C212.6,341.8 214.2,343.5 214.5,345.2 C214.8,346.9 214.2,349 213.1,350.3 C211.9,351.6 208.7,352.2 207.6,353 C206.5,353.8 206.5,354.7 206.3,355 C206.4,356.5 206.7,361.7 206.7,364 C206.7,366.3 207.5,367.1 206.3,368.6 C205.1,370.1 200.6,372.4 199.4,373.2 C200.2,373.8 203,375.7 204,376.9 C205,378.1 205.2,378.5 205.2,380.6 C205.2,382.7 204.4,386.9 204,389.7 C203.6,392.5 204,394.7 202.5,397.5 C201,400.3 198.3,403.8 195,406.2 C191.7,408.8 186.2,411.2 182.5,412.5 C178.8,413.8 175.8,414 172.5,414 C169.2,414 165.6,413.3 162.5,412.5 C159.4,411.7 155.2,409.9 153.8,409.4 C153.6,415.4 152.9,439.3 152.8,445.3" fill="none" stroke="#d9a08c" stroke-width="0.6"/><path d="M65.5,445.6 C66,444.4 67.7,441.3 68.8,438.6 C69.9,435.9 71.3,432.8 72,429.2 C72.7,425.6 72.8,420.7 72.7,416.8 C72.6,412.9 71.5,407.7 71.2,405.9" fill="none" stroke="#d9a08c" stroke-width="0.6"/>
<path d="M181,277 C181.8,278.8 184.5,284.1 185.8,287.5 C187.1,290.9 188.3,294.4 189,297.5 C189.7,300.6 190.1,303.1 190,306 C189.9,308.9 189.6,311.9 188.6,315 C187.6,318.1 186.3,322 184,324.5 C181.7,327 179,328.5 175,329.8 C171,331.1 162.9,331.4 160,332.4 C157.1,333.3 158.2,334.1 157.5,335.5 C156.8,336.9 156.2,338.8 155.8,341 C155.5,343.2 156,346.3 155.4,349 C154.8,351.7 153,355.7 152.5,357" fill="none" stroke="#fee2d6" stroke-width="4.5" stroke-linecap="round"/>
<path d="M92,352 C93.3,350 100.5,353.7 106,354 C111.5,354.3 119.3,353.8 125,354 C130.7,354.2 136.5,355.2 140,355 C143.5,354.8 145,352.8 146,353 C147,353.2 147.3,354.9 146,356 C144.7,357.1 140.8,358.5 138,359.5 C135.2,360.5 131.3,359.9 129,362 C126.7,364.1 125.5,367.7 124,372 C122.5,376.3 122,384 120,388 C118,392 115,394.7 112,396 C109,397.3 104.7,398 102,396 C99.3,394 98.3,387.7 96,384 C93.7,380.3 87.7,377 88,374 C88.3,371 97.3,369.7 98,366 C98.7,362.3 90.7,354 92,352Z" fill="url(#orng)"/>
<path d="M179.8,281 C181.5,283.4 182.3,285.6 183.4,288.3 C184.5,291 185.6,294.4 186.2,297.4 C186.8,300.3 187.3,303.1 187.2,306 C187.1,308.9 186.8,312.1 185.8,315 C184.8,317.9 183.2,321 181.1,323.1 C179,325.2 177,326.4 173.4,327.6 C169.8,328.8 162.3,329.2 159.3,330.2 C156.3,331.2 156.4,332 155.4,333.4 C154.4,334.8 153.9,335.9 153.5,338.5 C153.1,341.1 153.3,346 152.8,348.8 C152.3,351.6 151.8,353.6 150.3,355.2 C148.8,356.8 146.4,357.7 143.9,358.5 C141.4,359.3 138.1,358.9 135.6,359.8 C133.1,360.8 130.7,362.4 129,364.2 C127.3,366 126.7,368.2 125.7,370.8 C124.7,373.4 127.3,376.5 123,380 C118.7,383.5 105.2,392.3 100,392 C94.8,391.7 95.1,380.5 92,378 C88.9,375.5 84.5,377.6 81.3,377 C78.1,376.4 76.3,376.3 73,374.5 C69.7,372.7 64.8,369.3 61.5,366.2 C58.2,363.1 55.4,359.9 53.2,356 C51,352.1 49.3,347.4 48.3,343 C47.3,338.6 47.1,334.1 47.4,329.3 C47.7,324.5 48.5,319.6 50,314.4 C51.5,309.2 54,302.9 56.5,298 C59,293.1 62,288.1 64.8,284.7 C67.5,281.2 68.9,279.8 73,277.3 C77.1,274.8 84,272.2 89.5,269.9 C95,267.6 100.9,265 106,263.3 C111.1,261.6 116,260.5 120,259.8 C124,259.1 125.9,258.8 130,259 C134.1,259.2 140.6,260.1 144.8,260.8 C149,261.5 151.8,262.4 155,263.3 C158.2,264.2 161.1,264.6 164.2,266.3 C167.2,268 170.7,271.2 173.3,273.6 C175.9,276.1 178.1,278.6 179.8,281Z" fill="#efb29a"/><path d="M81.3,377 C79.9,376.6 76.3,376.3 73,374.5 C69.7,372.7 64.8,369.3 61.5,366.2 C58.2,363.1 55.4,359.9 53.2,356 C51,352.1 49.3,347.4 48.3,343 C47.3,338.6 47.1,334.1 47.4,329.3 C47.7,324.5 48.5,319.6 50,314.4 C51.5,309.2 54,302.9 56.5,298 C59,293.1 62,288.1 64.8,284.7 C67.5,281.2 68.9,279.8 73,277.3 C77.1,274.8 84,272.2 89.5,269.9 C95,267.6 100.9,265 106,263.3 C111.1,261.6 116,260.5 120,259.8 C124,259.1 125.9,258.8 130,259 C134.1,259.2 140.6,260.1 144.8,260.8 C149,261.5 151.8,262.4 155,263.3 C158.2,264.2 161.1,264.6 164.2,266.3 C167.2,268 170.7,271.2 173.3,273.6 C175.9,276.1 178.1,278.6 179.8,281 C181.5,283.4 182.3,285.6 183.4,288.3 C184.5,291 185.6,294.4 186.2,297.4 C186.8,300.3 187.3,303.1 187.2,306 C187.1,308.9 186.8,312.1 185.8,315 C184.8,317.9 183.2,321 181.1,323.1 C179,325.2 177,326.4 173.4,327.6 C169.8,328.8 162.3,329.2 159.3,330.2 C156.3,331.2 156.4,332 155.4,333.4 C154.4,334.8 153.9,335.9 153.5,338.5 C153.1,341.1 153.3,346 152.8,348.8 C152.3,351.6 151.8,353.6 150.3,355.2 C148.8,356.8 146.4,357.7 143.9,358.5 C141.4,359.3 138.1,358.9 135.6,359.8 C133.1,360.8 130.7,362.4 129,364.2 C127.3,366 126.2,369.7 125.7,370.8" fill="none" stroke="#fff4ee" stroke-width="1.1"/>
<path d="M92,352 C93.3,350 100.5,353.7 106,354 C111.5,354.3 119.3,353.8 125,354 C130.7,354.2 136.5,355.2 140,355 C143.5,354.8 145,352.8 146,353 C147,353.2 147.3,354.9 146,356 C144.7,357.1 140.8,358.5 138,359.5 C135.2,360.5 131.3,359.9 129,362 C126.7,364.1 125.5,367.7 124,372 C122.5,376.3 122,384 120,388 C118,392 115,394.7 112,396 C109,397.3 104.7,398 102,396 C99.3,394 98.3,387.7 96,384 C93.7,380.3 87.7,377 88,374 C88.3,371 97.3,369.7 98,366 C98.7,362.3 90.7,354 92,352Z" fill="url(#orng)"/>
<path d="M146,324.5 L160,324.5 L156,333 L153,340 L147.5,340Z" fill="url(#notch)"/>
<path d="M130,264 C134.5,264.1 140.8,264.8 145,265.5 C149.2,266.2 151,267.3 155,268.5 C159,269.7 165.3,270.9 168.8,272.7 C172.3,274.5 174.1,276.5 176.1,279.1 C178.1,281.7 179.6,284.9 180.7,288.3 C181.8,291.7 182.2,296 182.5,299.3 C182.8,302.6 182.9,305.2 182.6,308 C182.3,310.8 181.5,313.7 180.5,316 C179.5,318.3 178.3,320.4 176.5,321.8 C174.7,323.2 172.5,323.9 169.6,324.4 C166.7,324.9 163,324.8 159.3,325 C155.7,325.2 149.6,325.6 147.7,325.7 C147.5,326.4 146.3,327.2 146.4,329.6 C146.5,332 148,336.6 148.5,340 C149,343.4 149.9,347.5 149.3,350 C148.7,352.5 146.7,354.1 145,355 C143.3,355.9 142.8,355.4 139,355.5 C135.2,355.6 128,355.7 122.5,355.5 C117,355.3 111.5,355.1 106,354.5 C100.5,353.9 95,352.9 89.5,352 C84,351.1 77.6,349.2 73,349 C68.4,348.8 64.9,350.8 62,351 C59.1,351.2 57.2,351.2 55.5,350 C53.8,348.8 52.7,347.3 52,344 C51.3,340.7 51.2,334.7 51.5,330 C51.8,325.3 52.6,320.8 54,316 C55.4,311.2 57.8,305.6 60,301 C62.2,296.4 65,291.8 67.5,288.5 C70,285.2 71.2,283.9 75,281.5 C78.8,279.1 84.8,276.3 90,274 C95.2,271.7 101.3,269 106,267.5 C110.7,266 114,265.6 118,265 C122,264.4 125.5,263.9 130,264Z" fill="#e4dfd5" stroke="#b8ad9a" stroke-width="0.6"/>
<g clip-path="url(#brainclip)"><use href="#tex"/></g>
<path d="M57,352 C58,350.7 61.2,350.6 65,350 C68.8,349.4 75.5,348.3 80,348.5 C84.5,348.7 87.8,349.5 92,351 C96.2,352.5 102.8,356.4 105,357.5 C104.2,358.8 101.7,362.8 100,365 C98.3,367.2 97.5,369.5 95,371 C92.5,372.5 88.3,373.8 85,374 C81.7,374.2 78.3,373.5 75,372 C71.7,370.5 67.7,367.3 65,365 C62.3,362.7 60.3,360.2 59,358 C57.7,355.8 56,353.3 57,352Z" fill="#979aa2" stroke="#5a5b63" stroke-width="0.8"/>
<path d="M57.5,351.9 C58.2,351.8 60.1,351.4 61.8,351.3 C63.5,351.1 65.7,351 67.6,351 C69.6,350.9 71.5,350.8 73.5,350.8 C75.5,350.8 77.5,350.8 79.5,351 C81.5,351.2 83.7,351.5 85.5,351.8 C87.3,352.2 89,352.5 90.5,352.9 C92,353.3 93.2,353.6 94.6,354 C95.9,354.4 97.4,355 98.6,355.4 C99.8,355.8 100.8,356.2 101.7,356.5 C102.6,356.7 103.3,356.9 103.9,357.1 C104.4,357.3 104.8,357.4 105,357.5 M57.5,352.2 C58.2,352.2 60,352.3 61.6,352.4 C63.2,352.4 65.3,352.5 67.2,352.6 C69.1,352.7 71,352.8 73,353 C75,353.1 77,353.2 79,353.4 C81,353.6 83.2,354 85,354.3 C86.8,354.6 88.5,354.9 90,355.2 C91.5,355.5 92.8,355.7 94.2,356 C95.6,356.3 97,356.8 98.2,357 C99.4,357.3 100.5,357.4 101.4,357.5 C102.3,357.6 103.1,357.6 103.7,357.6 C104.3,357.6 104.8,357.5 105,357.5 M57.5,352.5 C58.1,352.7 59.9,353.1 61.4,353.4 C62.9,353.7 65,354 66.8,354.3 C68.6,354.6 70.5,354.8 72.5,355.1 C74.5,355.3 76.5,355.5 78.5,355.8 C80.5,356 82.7,356.4 84.5,356.7 C86.3,357 88,357.3 89.5,357.5 C91,357.8 92.4,357.9 93.8,358.1 C95.2,358.2 96.6,358.6 97.8,358.7 C99,358.7 100.1,358.7 101.1,358.6 C102.1,358.5 102.9,358.2 103.5,358.1 C104.2,357.9 104.8,357.6 105,357.5 M57.5,352.9 C58.1,353.2 59.7,354 61.2,354.5 C62.7,355 64.6,355.5 66.4,356 C68.2,356.4 70.1,356.9 72,357.2 C73.9,357.6 76,357.8 78,358.2 C80,358.5 82.2,358.9 84,359.2 C85.8,359.4 87.4,359.7 89,359.8 C90.6,360 92,360 93.4,360.1 C94.8,360.2 96.2,360.4 97.4,360.3 C98.6,360.2 99.8,359.9 100.8,359.6 C101.8,359.4 102.7,358.9 103.4,358.6 C104.1,358.2 104.7,357.7 105,357.5 M57.5,353.2 C58.1,353.6 59.6,354.9 61,355.6 C62.4,356.3 64.2,357 66,357.6 C67.8,358.3 69.6,358.9 71.5,359.4 C73.4,359.8 75.5,360.2 77.5,360.6 C79.5,360.9 81.7,361.3 83.5,361.6 C85.3,361.9 86.9,362.1 88.5,362.1 C90.1,362.2 91.6,362.1 93,362.1 C94.4,362.1 95.8,362.1 97,361.9 C98.2,361.7 99.5,361.2 100.5,360.7 C101.5,360.2 102.5,359.6 103.2,359.1 C104,358.5 104.7,357.8 105,357.5 M57.5,353.6 C58,354.1 59.4,355.7 60.8,356.7 C62.1,357.6 63.9,358.5 65.6,359.3 C67.3,360.1 69.1,360.9 71,361.5 C72.9,362.1 75,362.5 77,362.9 C79,363.4 81.2,363.8 83,364 C84.8,364.3 86.4,364.4 88,364.5 C89.6,364.5 91.2,364.3 92.6,364.1 C94,364 95.3,363.9 96.6,363.5 C97.9,363.1 99.1,362.4 100.2,361.8 C101.3,361.1 102.3,360.2 103.1,359.5 C103.9,358.8 104.7,357.8 105,357.5 M57.5,353.9 C58,354.6 59.3,356.6 60.6,357.8 C61.9,358.9 63.6,360 65.2,361 C66.9,362 68.6,362.9 70.5,363.6 C72.4,364.3 74.5,364.9 76.5,365.3 C78.5,365.8 80.7,366.2 82.5,366.5 C84.3,366.7 85.9,366.8 87.5,366.8 C89.1,366.7 90.8,366.4 92.2,366.1 C93.7,365.9 94.9,365.7 96.2,365.1 C97.5,364.6 98.8,363.7 99.9,362.8 C101,362 102.1,360.9 103,360 C103.8,359.1 104.7,357.9 105,357.5 M57.5,354.3 C58,355.1 59.2,357.4 60.4,358.8 C61.6,360.2 63.2,361.5 64.8,362.7 C66.4,363.8 68.1,364.9 70,365.7 C71.9,366.6 74,367.2 76,367.7 C78,368.2 80.2,368.7 82,368.9 C83.8,369.1 85.4,369.2 87,369.1 C88.6,369 90.3,368.5 91.8,368.2 C93.3,367.8 94.5,367.5 95.8,366.8 C97.1,366 98.4,364.9 99.6,363.9 C100.8,362.8 101.9,361.6 102.8,360.5 C103.7,359.5 104.6,358 105,357.5 M57.5,354.6 C58,355.5 59,358.3 60.2,359.9 C61.3,361.5 62.9,363 64.4,364.3 C66,365.7 67.7,366.9 69.5,367.9 C71.3,368.8 73.5,369.5 75.5,370.1 C77.5,370.7 79.7,371.1 81.5,371.4 C83.3,371.6 84.8,371.6 86.5,371.4 C88.2,371.2 89.9,370.7 91.4,370.2 C92.9,369.7 94.1,369.3 95.4,368.4 C96.7,367.5 98.1,366.2 99.3,364.9 C100.5,363.7 101.7,362.2 102.7,361 C103.6,359.8 104.6,358.1 105,357.5" fill="none" stroke="#f0f0f3" stroke-width="0.95"/>
<path d="M100.8,370 L116.5,367 L114.6,394.8 L102.6,395Z" fill="#d3cec3" stroke="#b5ae9f" stroke-width="0.5"/>
<ellipse cx="111.5" cy="366.8" rx="10.6" ry="10.3" fill="#dad5ca" stroke="#b5ae9f" stroke-width="0.5"/>
<path d="M110,375 L119,360 M112,375 L121,363 M114,375.5 L122,367" stroke="#fff" stroke-width="0.8"/>
<path d="M63.4,406.2 C62.6,405.6 61,405.6 58.7,402.7 C56.4,399.8 52.5,393.6 49.4,388.7 C46.3,383.8 43.1,378.4 40,373 C36.9,367.6 33.5,361.5 31,356 C28.5,350.5 26.3,346 25,340 C23.7,334 23.3,325.8 23,320 C22.7,314.2 22.8,310.1 23,305 C23.2,299.9 23.5,294.6 24.5,289.6 C25.5,284.6 26.8,279.7 28.8,274.9 C30.8,270.1 33.5,265.2 36.5,261 C39.5,256.8 42.5,253.4 46.5,249.5 C50.5,245.6 55.8,240.6 60.5,237.5 C65.2,234.4 68.8,233.2 74.5,231.2 C80.2,229.2 88,226.7 95,225.6 C102,224.5 109.4,224.2 116.6,224.5 C123.8,224.8 130.9,226 138.1,227.3 C145.3,228.6 152.5,230.6 159.7,232.4 C166.9,234.2 175.2,236.6 181.2,238.1 C187.2,239.6 192.2,240.5 195.6,241.7 C199,242.9 200.2,243.5 201.4,245.3 C202.6,247.1 202.7,249.6 202.8,252.5 C202.9,255.4 202.4,260.1 202.1,262.6 C201.8,265.1 201.9,265.2 200.9,267.5 C199.9,269.8 197.8,274.1 196.3,276.3 C194.8,278.5 193.2,279.6 191.7,280.5 C190.2,281.4 187.9,281.7 187.1,281.9 C186.5,281.6 184.9,281.1 183.4,280 C181.9,278.9 180.4,277.4 178,275.4 C175.6,273.4 172.6,270.1 168.8,268 C165,265.9 160.1,264.1 155,262.6 C149.9,261.1 143.3,259.6 138.1,259 C132.9,258.4 128.5,258.8 123.7,259 C118.9,259.2 114.2,259.6 109.4,260.4 C104.6,261.2 99.9,262.2 95,264 C90.1,265.8 84.2,268.5 80,271 C75.8,273.5 73,276 70,279 C67,282 64.4,285.5 62,289 C59.6,292.5 57.4,296 55.5,300 C53.6,304 51.8,308.2 50.5,313 C49.2,317.8 48,324 47.5,329 C47,334 46.8,338.7 47.5,343 C48.2,347.3 49.4,351.2 51.5,355 C53.6,358.8 56.9,363 60,366 C63.1,369 67.3,371.2 70,373 C72.7,374.8 74.9,375.9 75.9,376.5 C75.8,377.5 75.4,379.4 75,382.5 C74.6,385.6 74.4,391.5 73.5,395 C72.6,398.5 71.3,401.6 69.6,403.5 C67.9,405.4 64.4,405.8 63.4,406.2Z" fill="#7f4934" stroke="#3b1a0c" stroke-width="0.7"/>
<path d="M63.4,406.2 C62.6,405.6 61,405.6 58.7,402.7 C56.4,399.8 52.5,393.6 49.4,388.7 C46.3,383.8 43.1,378.4 40,373 C36.9,367.6 33.4,361.5 31,356 C28.6,350.5 26.7,346 25.5,340 C24.3,334 24,325.8 24,320 C24,314.2 24.7,309.1 25.3,305 C25.9,300.9 26.5,298.6 27.5,295.5 C28.5,292.4 29.5,289.4 31.1,286.7 C32.7,284 35.3,281.5 37,279.3 C38.7,277.1 40.3,275.6 41.4,273.4 C42.5,271.2 42.9,268.5 43.6,266.1 C44.3,263.7 44.4,260.8 45.8,258.8 C47.1,256.9 48.3,256.1 51.7,254.4 C55.1,252.7 61.5,250.2 66.4,248.5 C71.3,246.8 76.2,245 81,244 C85.8,243 90.3,242.9 95,242.4 C99.7,241.9 103.4,241.5 109.4,241 C115.4,240.5 126.5,239.8 131,239.6 C135.6,239.4 135,239.2 136.7,239.6 C138.4,239.9 138.4,241 141,241.7 C143.6,242.4 150.1,243.2 152.5,243.9 C154.9,244.6 154.5,245.3 155.4,246 C156.3,246.7 156.3,247.8 158.2,248.2 C160.1,248.6 163.1,248.4 166.9,248.2 C170.7,247.9 176.4,247.3 181.2,246.7 C186,246.1 192.2,244.6 195.6,244.6 C199,244.6 200.2,245.2 201.4,246.5 C202.6,247.8 202.7,249.8 202.8,252.5 C202.9,255.2 202.4,260.1 202.1,262.6 C201.8,265.1 201.9,265.2 200.9,267.5 C199.9,269.8 197.8,274.1 196.3,276.3 C194.8,278.5 193.2,279.6 191.7,280.5 C190.2,281.4 187.9,281.7 187.1,281.9 C186.5,281.6 184.9,281.1 183.4,280 C181.9,278.9 180.4,277.4 178,275.4 C175.6,273.4 172.6,270.1 168.8,268 C165,265.9 160.1,264.1 155,262.6 C149.9,261.1 143.3,259.6 138.1,259 C132.9,258.4 128.5,258.8 123.7,259 C118.9,259.2 114.2,259.6 109.4,260.4 C104.6,261.2 99.9,262.2 95,264 C90.1,265.8 84.2,268.5 80,271 C75.8,273.5 73,276 70,279 C67,282 64.4,285.5 62,289 C59.6,292.5 57.4,296 55.5,300 C53.6,304 51.8,308.2 50.5,313 C49.2,317.8 48,324 47.5,329 C47,334 46.8,338.7 47.5,343 C48.2,347.3 49.4,351.2 51.5,355 C53.6,358.8 56.9,363 60,366 C63.1,369 67.3,371.2 70,373 C72.7,374.8 74.9,375.9 75.9,376.5 C75.8,377.5 75.4,379.4 75,382.5 C74.6,385.6 74.4,391.5 73.5,395 C72.6,398.5 71.3,401.6 69.6,403.5 C67.9,405.4 64.4,405.8 63.4,406.2Z" fill="#66290f"/>
</g>
<line x1="185.5" y1="290.3" x2="204.4" y2="290.3" stroke="#444" stroke-width="0.8"/><circle cx="185.8" cy="290.3" r="0.9" fill="#111"/>
<text x="208.3" y="295.2" font-family="Liberation Sans" font-size="16.8" fill="#111" textLength="29.8" lengthAdjust="spacingAndGlyphs">Skull</text>
<g transform="translate(530,0)">
<path d="M153.8,405 C153.6,411.7 152.9,438.3 152.8,445 C138.2,445.1 80.2,445.5 65.7,445.6 C66.2,444.4 67.8,441.3 68.8,438.6 C69.8,435.9 71.3,432.8 72,429.2 C72.7,425.6 72.8,420.7 72.7,416.8 C72.6,412.9 71.5,407.7 71.2,405.9 C72,400.9 75.1,381.1 75.9,376.2 C86.6,376.8 129.3,379.4 140,380 C142.3,384.2 151.5,400.8 153.8,405Z" fill="#fed4c2"/>
<path d="M184,279 C185.1,279.4 189.2,279.9 190.4,281.6 C191.6,283.3 190.6,286.3 191,289.3 C191.4,292.3 192,296 193,299.6 C194,303.2 195.3,307 196.9,311.1 C198.5,315.2 200.8,320.1 202.6,324 C204.4,327.9 206.3,331.6 207.8,334.3 C209.3,337 210.4,338.2 211.5,340 C212.6,341.8 214.2,343.5 214.5,345.2 C214.8,346.9 214.2,349 213.1,350.3 C211.9,351.6 208.7,352.2 207.6,353 C206.5,353.8 206.5,354.7 206.3,355 C206.4,356.5 206.7,361.7 206.7,364 C206.7,366.3 207.5,367.1 206.3,368.6 C205.1,370.1 200.6,372.4 199.4,373.2 C200.2,373.8 203,375.7 204,376.9 C205,378.1 205.2,378.5 205.2,380.6 C205.2,382.7 204.4,386.9 204,389.7 C203.6,392.5 204,394.7 202.5,397.5 C201,400.3 198.3,403.8 195,406.2 C191.7,408.8 186.2,411.2 182.5,412.5 C178.8,413.8 175.8,414 172.5,414 C169.2,414 165.6,413.3 162.5,412.5 C159.4,411.7 155.2,409.9 153.8,409.4 C151.5,407.8 142.3,401.6 140,400 C133.3,400 106.7,400 100,400 C96,396 79.9,380.2 75.9,376.2 C70.8,368.5 50.1,337.7 45,330 C47.5,320 57.5,280 60,270 C70,266.7 110,253.3 120,250 C129.2,252.5 165.8,262.5 175,265 C176.5,267.3 182.5,276.7 184,279Z" fill="#fed4c2"/>
<path d="M190.4,281.6 C190.5,282.9 190.6,286.3 191,289.3 C191.4,292.3 192,296 193,299.6 C194,303.2 195.3,307 196.9,311.1 C198.5,315.2 200.8,320.1 202.6,324 C204.4,327.9 206.3,331.6 207.8,334.3 C209.3,337 210.4,338.2 211.5,340 C212.6,341.8 214.2,343.5 214.5,345.2 C214.8,346.9 214.2,349 213.1,350.3 C211.9,351.6 208.7,352.2 207.6,353 C206.5,353.8 206.5,354.7 206.3,355 C206.4,356.5 206.7,361.7 206.7,364 C206.7,366.3 207.5,367.1 206.3,368.6 C205.1,370.1 200.6,372.4 199.4,373.2 C200.2,373.8 203,375.7 204,376.9 C205,378.1 205.2,378.5 205.2,380.6 C205.2,382.7 204.4,386.9 204,389.7 C203.6,392.5 204,394.7 202.5,397.5 C201,400.3 198.3,403.8 195,406.2 C191.7,408.8 186.2,411.2 182.5,412.5 C178.8,413.8 175.8,414 172.5,414 C169.2,414 165.6,413.3 162.5,412.5 C159.4,411.7 155.2,409.9 153.8,409.4 C153.6,415.4 152.9,439.3 152.8,445.3" fill="none" stroke="#d9a08c" stroke-width="0.6"/><path d="M65.5,445.6 C66,444.4 67.7,441.3 68.8,438.6 C69.9,435.9 71.3,432.8 72,429.2 C72.7,425.6 72.8,420.7 72.7,416.8 C72.6,412.9 71.5,407.7 71.2,405.9" fill="none" stroke="#d9a08c" stroke-width="0.6"/>
<path d="M181,277 C181.8,278.8 184.5,284.1 185.8,287.5 C187.1,290.9 188.3,294.4 189,297.5 C189.7,300.6 190.1,303.1 190,306 C189.9,308.9 189.6,311.9 188.6,315 C187.6,318.1 186.3,322 184,324.5 C181.7,327 179,328.5 175,329.8 C171,331.1 162.9,331.4 160,332.4 C157.1,333.3 158.2,334.1 157.5,335.5 C156.8,336.9 156.2,338.8 155.8,341 C155.5,343.2 156,346.3 155.4,349 C154.8,351.7 153,355.7 152.5,357" fill="none" stroke="#fee2d6" stroke-width="4.5" stroke-linecap="round"/>
<path d="M92,352 C93.3,350 100.5,353.7 106,354 C111.5,354.3 119.3,353.8 125,354 C130.7,354.2 136.5,355.2 140,355 C143.5,354.8 145,352.8 146,353 C147,353.2 147.3,354.9 146,356 C144.7,357.1 140.8,358.5 138,359.5 C135.2,360.5 131.3,359.9 129,362 C126.7,364.1 125.5,367.7 124,372 C122.5,376.3 122,384 120,388 C118,392 115,394.7 112,396 C109,397.3 104.7,398 102,396 C99.3,394 98.3,387.7 96,384 C93.7,380.3 87.7,377 88,374 C88.3,371 97.3,369.7 98,366 C98.7,362.3 90.7,354 92,352Z" fill="url(#orng)"/>
<path d="M179.8,281 C181.5,283.4 182.3,285.6 183.4,288.3 C184.5,291 185.6,294.4 186.2,297.4 C186.8,300.3 187.3,303.1 187.2,306 C187.1,308.9 186.8,312.1 185.8,315 C184.8,317.9 183.2,321 181.1,323.1 C179,325.2 177,326.4 173.4,327.6 C169.8,328.8 162.3,329.2 159.3,330.2 C156.3,331.2 156.4,332 155.4,333.4 C154.4,334.8 153.9,335.9 153.5,338.5 C153.1,341.1 153.3,346 152.8,348.8 C152.3,351.6 151.8,353.6 150.3,355.2 C148.8,356.8 146.4,357.7 143.9,358.5 C141.4,359.3 138.1,358.9 135.6,359.8 C133.1,360.8 130.7,362.4 129,364.2 C127.3,366 126.7,368.2 125.7,370.8 C124.7,373.4 127.3,376.5 123,380 C118.7,383.5 105.2,392.3 100,392 C94.8,391.7 95.1,380.5 92,378 C88.9,375.5 84.5,377.6 81.3,377 C78.1,376.4 76.3,376.3 73,374.5 C69.7,372.7 64.8,369.3 61.5,366.2 C58.2,363.1 55.4,359.9 53.2,356 C51,352.1 49.3,347.4 48.3,343 C47.3,338.6 47.1,334.1 47.4,329.3 C47.7,324.5 48.5,319.6 50,314.4 C51.5,309.2 54,302.9 56.5,298 C59,293.1 62,288.1 64.8,284.7 C67.5,281.2 68.9,279.8 73,277.3 C77.1,274.8 84,272.2 89.5,269.9 C95,267.6 100.9,265 106,263.3 C111.1,261.6 116,260.5 120,259.8 C124,259.1 125.9,258.8 130,259 C134.1,259.2 140.6,260.1 144.8,260.8 C149,261.5 151.8,262.4 155,263.3 C158.2,264.2 161.1,264.6 164.2,266.3 C167.2,268 170.7,271.2 173.3,273.6 C175.9,276.1 178.1,278.6 179.8,281Z" fill="#efb29a"/><path d="M81.3,377 C79.9,376.6 76.3,376.3 73,374.5 C69.7,372.7 64.8,369.3 61.5,366.2 C58.2,363.1 55.4,359.9 53.2,356 C51,352.1 49.3,347.4 48.3,343 C47.3,338.6 47.1,334.1 47.4,329.3 C47.7,324.5 48.5,319.6 50,314.4 C51.5,309.2 54,302.9 56.5,298 C59,293.1 62,288.1 64.8,284.7 C67.5,281.2 68.9,279.8 73,277.3 C77.1,274.8 84,272.2 89.5,269.9 C95,267.6 100.9,265 106,263.3 C111.1,261.6 116,260.5 120,259.8 C124,259.1 125.9,258.8 130,259 C134.1,259.2 140.6,260.1 144.8,260.8 C149,261.5 151.8,262.4 155,263.3 C158.2,264.2 161.1,264.6 164.2,266.3 C167.2,268 170.7,271.2 173.3,273.6 C175.9,276.1 178.1,278.6 179.8,281 C181.5,283.4 182.3,285.6 183.4,288.3 C184.5,291 185.6,294.4 186.2,297.4 C186.8,300.3 187.3,303.1 187.2,306 C187.1,308.9 186.8,312.1 185.8,315 C184.8,317.9 183.2,321 181.1,323.1 C179,325.2 177,326.4 173.4,327.6 C169.8,328.8 162.3,329.2 159.3,330.2 C156.3,331.2 156.4,332 155.4,333.4 C154.4,334.8 153.9,335.9 153.5,338.5 C153.1,341.1 153.3,346 152.8,348.8 C152.3,351.6 151.8,353.6 150.3,355.2 C148.8,356.8 146.4,357.7 143.9,358.5 C141.4,359.3 138.1,358.9 135.6,359.8 C133.1,360.8 130.7,362.4 129,364.2 C127.3,366 126.2,369.7 125.7,370.8" fill="none" stroke="#fff4ee" stroke-width="1.1"/>
<path d="M92,352 C93.3,350 100.5,353.7 106,354 C111.5,354.3 119.3,353.8 125,354 C130.7,354.2 136.5,355.2 140,355 C143.5,354.8 145,352.8 146,353 C147,353.2 147.3,354.9 146,356 C144.7,357.1 140.8,358.5 138,359.5 C135.2,360.5 131.3,359.9 129,362 C126.7,364.1 125.5,367.7 124,372 C122.5,376.3 122,384 120,388 C118,392 115,394.7 112,396 C109,397.3 104.7,398 102,396 C99.3,394 98.3,387.7 96,384 C93.7,380.3 87.7,377 88,374 C88.3,371 97.3,369.7 98,366 C98.7,362.3 90.7,354 92,352Z" fill="url(#orng)"/>
<path d="M146,324.5 L160,324.5 L156,333 L153,340 L147.5,340Z" fill="url(#notch)"/>
<path d="M130,264 C134.5,264.1 140.8,264.8 145,265.5 C149.2,266.2 151,267.3 155,268.5 C159,269.7 165.3,270.9 168.8,272.7 C172.3,274.5 174.1,276.5 176.1,279.1 C178.1,281.7 179.6,284.9 180.7,288.3 C181.8,291.7 182.2,296 182.5,299.3 C182.8,302.6 182.9,305.2 182.6,308 C182.3,310.8 181.5,313.7 180.5,316 C179.5,318.3 178.3,320.4 176.5,321.8 C174.7,323.2 172.5,323.9 169.6,324.4 C166.7,324.9 163,324.8 159.3,325 C155.7,325.2 149.6,325.6 147.7,325.7 C147.5,326.4 146.3,327.2 146.4,329.6 C146.5,332 148,336.6 148.5,340 C149,343.4 149.9,347.5 149.3,350 C148.7,352.5 146.7,354.1 145,355 C143.3,355.9 142.8,355.4 139,355.5 C135.2,355.6 128,355.7 122.5,355.5 C117,355.3 111.5,355.1 106,354.5 C100.5,353.9 95,352.9 89.5,352 C84,351.1 77.6,349.2 73,349 C68.4,348.8 64.9,350.8 62,351 C59.1,351.2 57.2,351.2 55.5,350 C53.8,348.8 52.7,347.3 52,344 C51.3,340.7 51.2,334.7 51.5,330 C51.8,325.3 52.6,320.8 54,316 C55.4,311.2 57.8,305.6 60,301 C62.2,296.4 65,291.8 67.5,288.5 C70,285.2 71.2,283.9 75,281.5 C78.8,279.1 84.8,276.3 90,274 C95.2,271.7 101.3,269 106,267.5 C110.7,266 114,265.6 118,265 C122,264.4 125.5,263.9 130,264Z" fill="#e4dfd5" stroke="#b8ad9a" stroke-width="0.6"/>
<g clip-path="url(#brainclip)"><use href="#tex"/></g>
<path d="M57,352 C58,350.7 61.2,350.6 65,350 C68.8,349.4 75.5,348.3 80,348.5 C84.5,348.7 87.8,349.5 92,351 C96.2,352.5 102.8,356.4 105,357.5 C104.2,358.8 101.7,362.8 100,365 C98.3,367.2 97.5,369.5 95,371 C92.5,372.5 88.3,373.8 85,374 C81.7,374.2 78.3,373.5 75,372 C71.7,370.5 67.7,367.3 65,365 C62.3,362.7 60.3,360.2 59,358 C57.7,355.8 56,353.3 57,352Z" fill="#979aa2" stroke="#5a5b63" stroke-width="0.8"/>
<path d="M57.5,351.9 C58.2,351.8 60.1,351.4 61.8,351.3 C63.5,351.1 65.7,351 67.6,351 C69.6,350.9 71.5,350.8 73.5,350.8 C75.5,350.8 77.5,350.8 79.5,351 C81.5,351.2 83.7,351.5 85.5,351.8 C87.3,352.2 89,352.5 90.5,352.9 C92,353.3 93.2,353.6 94.6,354 C95.9,354.4 97.4,355 98.6,355.4 C99.8,355.8 100.8,356.2 101.7,356.5 C102.6,356.7 103.3,356.9 103.9,357.1 C104.4,357.3 104.8,357.4 105,357.5 M57.5,352.2 C58.2,352.2 60,352.3 61.6,352.4 C63.2,352.4 65.3,352.5 67.2,352.6 C69.1,352.7 71,352.8 73,353 C75,353.1 77,353.2 79,353.4 C81,353.6 83.2,354 85,354.3 C86.8,354.6 88.5,354.9 90,355.2 C91.5,355.5 92.8,355.7 94.2,356 C95.6,356.3 97,356.8 98.2,357 C99.4,357.3 100.5,357.4 101.4,357.5 C102.3,357.6 103.1,357.6 103.7,357.6 C104.3,357.6 104.8,357.5 105,357.5 M57.5,352.5 C58.1,352.7 59.9,353.1 61.4,353.4 C62.9,353.7 65,354 66.8,354.3 C68.6,354.6 70.5,354.8 72.5,355.1 C74.5,355.3 76.5,355.5 78.5,355.8 C80.5,356 82.7,356.4 84.5,356.7 C86.3,357 88,357.3 89.5,357.5 C91,357.8 92.4,357.9 93.8,358.1 C95.2,358.2 96.6,358.6 97.8,358.7 C99,358.7 100.1,358.7 101.1,358.6 C102.1,358.5 102.9,358.2 103.5,358.1 C104.2,357.9 104.8,357.6 105,357.5 M57.5,352.9 C58.1,353.2 59.7,354 61.2,354.5 C62.7,355 64.6,355.5 66.4,356 C68.2,356.4 70.1,356.9 72,357.2 C73.9,357.6 76,357.8 78,358.2 C80,358.5 82.2,358.9 84,359.2 C85.8,359.4 87.4,359.7 89,359.8 C90.6,360 92,360 93.4,360.1 C94.8,360.2 96.2,360.4 97.4,360.3 C98.6,360.2 99.8,359.9 100.8,359.6 C101.8,359.4 102.7,358.9 103.4,358.6 C104.1,358.2 104.7,357.7 105,357.5 M57.5,353.2 C58.1,353.6 59.6,354.9 61,355.6 C62.4,356.3 64.2,357 66,357.6 C67.8,358.3 69.6,358.9 71.5,359.4 C73.4,359.8 75.5,360.2 77.5,360.6 C79.5,360.9 81.7,361.3 83.5,361.6 C85.3,361.9 86.9,362.1 88.5,362.1 C90.1,362.2 91.6,362.1 93,362.1 C94.4,362.1 95.8,362.1 97,361.9 C98.2,361.7 99.5,361.2 100.5,360.7 C101.5,360.2 102.5,359.6 103.2,359.1 C104,358.5 104.7,357.8 105,357.5 M57.5,353.6 C58,354.1 59.4,355.7 60.8,356.7 C62.1,357.6 63.9,358.5 65.6,359.3 C67.3,360.1 69.1,360.9 71,361.5 C72.9,362.1 75,362.5 77,362.9 C79,363.4 81.2,363.8 83,364 C84.8,364.3 86.4,364.4 88,364.5 C89.6,364.5 91.2,364.3 92.6,364.1 C94,364 95.3,363.9 96.6,363.5 C97.9,363.1 99.1,362.4 100.2,361.8 C101.3,361.1 102.3,360.2 103.1,359.5 C103.9,358.8 104.7,357.8 105,357.5 M57.5,353.9 C58,354.6 59.3,356.6 60.6,357.8 C61.9,358.9 63.6,360 65.2,361 C66.9,362 68.6,362.9 70.5,363.6 C72.4,364.3 74.5,364.9 76.5,365.3 C78.5,365.8 80.7,366.2 82.5,366.5 C84.3,366.7 85.9,366.8 87.5,366.8 C89.1,366.7 90.8,366.4 92.2,366.1 C93.7,365.9 94.9,365.7 96.2,365.1 C97.5,364.6 98.8,363.7 99.9,362.8 C101,362 102.1,360.9 103,360 C103.8,359.1 104.7,357.9 105,357.5 M57.5,354.3 C58,355.1 59.2,357.4 60.4,358.8 C61.6,360.2 63.2,361.5 64.8,362.7 C66.4,363.8 68.1,364.9 70,365.7 C71.9,366.6 74,367.2 76,367.7 C78,368.2 80.2,368.7 82,368.9 C83.8,369.1 85.4,369.2 87,369.1 C88.6,369 90.3,368.5 91.8,368.2 C93.3,367.8 94.5,367.5 95.8,366.8 C97.1,366 98.4,364.9 99.6,363.9 C100.8,362.8 101.9,361.6 102.8,360.5 C103.7,359.5 104.6,358 105,357.5 M57.5,354.6 C58,355.5 59,358.3 60.2,359.9 C61.3,361.5 62.9,363 64.4,364.3 C66,365.7 67.7,366.9 69.5,367.9 C71.3,368.8 73.5,369.5 75.5,370.1 C77.5,370.7 79.7,371.1 81.5,371.4 C83.3,371.6 84.8,371.6 86.5,371.4 C88.2,371.2 89.9,370.7 91.4,370.2 C92.9,369.7 94.1,369.3 95.4,368.4 C96.7,367.5 98.1,366.2 99.3,364.9 C100.5,363.7 101.7,362.2 102.7,361 C103.6,359.8 104.6,358.1 105,357.5" fill="none" stroke="#f0f0f3" stroke-width="0.95"/>
<path d="M100.8,370 L116.5,367 L114.6,394.8 L102.6,395Z" fill="#d3cec3" stroke="#b5ae9f" stroke-width="0.5"/>
<ellipse cx="111.5" cy="366.8" rx="10.6" ry="10.3" fill="#dad5ca" stroke="#b5ae9f" stroke-width="0.5"/>
<path d="M110,375 L119,360 M112,375 L121,363 M114,375.5 L122,367" stroke="#fff" stroke-width="0.8"/>
<g clip-path="url(#skull3clip)"><ellipse cx="178" cy="293" rx="19" ry="24" fill="url(#redglow)" opacity="0.6"/><g filter="url(#blur4)"><path d="M181,278 C185,285 187,295 185.5,305 C184.5,311 182.5,315 180,318" fill="none" stroke="#f01010" stroke-width="7" stroke-linecap="round"/></g></g>
<path d="M63.4,406.2 C62.6,405.6 61,405.6 58.7,402.7 C56.4,399.8 52.5,393.6 49.4,388.7 C46.3,383.8 43.1,378.4 40,373 C36.9,367.6 33.5,361.5 31,356 C28.5,350.5 26.3,346 25,340 C23.7,334 23.3,325.8 23,320 C22.7,314.2 22.8,310.1 23,305 C23.2,299.9 23.5,294.6 24.5,289.6 C25.5,284.6 26.8,279.7 28.8,274.9 C30.8,270.1 33.5,265.2 36.5,261 C39.5,256.8 42.5,253.4 46.5,249.5 C50.5,245.6 55.8,240.6 60.5,237.5 C65.2,234.4 68.8,233.2 74.5,231.2 C80.2,229.2 88,226.7 95,225.6 C102,224.5 110.8,224.2 116.6,224.5 C122.4,224.8 125.3,226.6 130,227.5 C134.7,228.4 139.8,228.8 144.7,229.7 C149.6,230.5 155,231.2 159.4,232.6 C163.8,233.9 167.9,235.8 171.1,237.8 C174.3,239.8 176.4,241.8 178.4,244.4 C180.4,247 181.6,250 182.8,253.2 C184,256.4 184.9,260 185.8,263.4 C186.7,266.8 187.8,270.9 188,273.7 C188.2,276.5 187.8,278.9 187.2,280.3 C186.6,281.7 184.8,281.6 184.3,281.8 C183.6,280.9 182.2,279 180,276.7 C177.8,274.4 174.5,270.2 171.1,267.8 C167.7,265.4 163.8,263.4 159.4,262 C155,260.6 149.6,260 144.7,259.5 C139.8,259 133.5,259.1 130,259 C126.5,258.9 127.1,258.8 123.7,259 C120.3,259.2 114.2,259.6 109.4,260.4 C104.6,261.2 99.9,262.2 95,264 C90.1,265.8 84.2,268.5 80,271 C75.8,273.5 73,276 70,279 C67,282 64.4,285.5 62,289 C59.6,292.5 57.4,296 55.5,300 C53.6,304 51.8,308.2 50.5,313 C49.2,317.8 48,324 47.5,329 C47,334 46.8,338.7 47.5,343 C48.2,347.3 49.4,351.2 51.5,355 C53.6,358.8 56.9,363 60,366 C63.1,369 67.3,371.2 70,373 C72.7,374.8 74.9,375.9 75.9,376.5 C75.8,377.5 75.4,379.4 75,382.5 C74.6,385.6 74.4,391.5 73.5,395 C72.6,398.5 71.3,401.6 69.6,403.5 C67.9,405.4 64.4,405.8 63.4,406.2Z" fill="#7f4934" stroke="#3b1a0c" stroke-width="0.7"/>
<path d="M63.4,406.2 C62.6,405.6 61,405.6 58.7,402.7 C56.4,399.8 52.5,393.6 49.4,388.7 C46.3,383.8 43.1,378.4 40,373 C36.9,367.6 33.4,361.5 31,356 C28.6,350.5 26.7,346 25.5,340 C24.3,334 24,325.8 24,320 C24,314.2 24.7,309.1 25.3,305 C25.9,300.9 26.5,298.6 27.5,295.5 C28.5,292.4 29.5,289.4 31.1,286.7 C32.7,284 35.3,281.5 37,279.3 C38.7,277.1 40.3,275.6 41.4,273.4 C42.5,271.2 42.9,268.5 43.6,266.1 C44.3,263.7 44.4,260.8 45.8,258.8 C47.1,256.9 48.3,256.1 51.7,254.4 C55.1,252.7 61.5,250.2 66.4,248.5 C71.3,246.8 76.2,245 81,244 C85.8,243 90.3,242.9 95,242.4 C99.7,241.9 103.6,241.3 109.4,241 C115.2,240.7 123.6,240.4 130,240.5 C136.4,240.6 144.2,241.4 148,241.8 C151.8,242.2 151.3,242.2 152.5,243 C153.7,243.8 152.6,245.8 155,246.8 C157.4,247.8 163.4,248 166.7,248.8 C170,249.6 172.8,250.4 175,251.5 C177.2,252.6 178.6,253.8 180,255.5 C181.4,257.1 182.6,259.3 183.6,261.4 C184.6,263.5 185.1,265.9 185.8,268 C186.5,270.1 187.8,271.6 188,273.7 C188.2,275.8 187.8,278.9 187.2,280.3 C186.6,281.7 184.8,281.6 184.3,281.8 C183.6,280.9 182.2,279 180,276.7 C177.8,274.4 174.5,270.2 171.1,267.8 C167.7,265.4 163.8,263.4 159.4,262 C155,260.6 149.6,260 144.7,259.5 C139.8,259 133.5,259.1 130,259 C126.5,258.9 127.1,258.8 123.7,259 C120.3,259.2 114.2,259.6 109.4,260.4 C104.6,261.2 99.9,262.2 95,264 C90.1,265.8 84.2,268.5 80,271 C75.8,273.5 73,276 70,279 C67,282 64.4,285.5 62,289 C59.6,292.5 57.4,296 55.5,300 C53.6,304 51.8,308.2 50.5,313 C49.2,317.8 48,324 47.5,329 C47,334 46.8,338.7 47.5,343 C48.2,347.3 49.4,351.2 51.5,355 C53.6,358.8 56.9,363 60,366 C63.1,369 67.3,371.2 70,373 C72.7,374.8 74.9,375.9 75.9,376.5 C75.8,377.5 75.4,379.4 75,382.5 C74.6,385.6 74.4,391.5 73.5,395 C72.6,398.5 71.3,401.6 69.6,403.5 C67.9,405.4 64.4,405.8 63.4,406.2Z" fill="#66290f"/>
</g>
<path d="M467.2,193.2 L452.4,225.8 L452.4,416.8 L467.2,447.6Z" fill="url(#glassL)" stroke="#c3c5d1" stroke-width="0.8"/>
<rect x="467.2" y="193.2" width="13.6" height="254.6" fill="url(#glassF)" stroke="#c3c5d1" stroke-width="0.8"/>
<path d="M312,335 C310,337.8 302,349.2 300,352 C299.8,355 298.8,367 298.6,370 C298.5,371.2 298.6,374.7 298,377 C297.4,379.3 296.4,381.4 295.2,383.6 C294,385.8 293,387.6 290.8,390.2 C288.6,392.8 285.3,395.7 282,399 C278.7,402.3 278.4,401.8 271,410 C263.6,418.2 243,441.8 237.4,448.1 C256,448.1 330.2,448.1 348.8,448.1 C351.9,443.2 364.4,423.6 367.5,418.8 C369.6,415.6 377.9,403.1 380,400 C374.2,392.5 350.8,362.5 345,355 C339.5,351.7 317.5,338.3 312,335Z" fill="#fed4c2"/>
<g clip-path="url(#clip2)"><g transform="matrix(0.866 0.4847 -0.4847 0.866 434.85 -11.31)">
<path d="M184,279 C185.1,279.4 189.2,279.9 190.4,281.6 C191.6,283.3 190.6,286.3 191,289.3 C191.4,292.3 192,296 193,299.6 C194,303.2 195.3,307 196.9,311.1 C198.5,315.2 200.8,320.1 202.6,324 C204.4,327.9 206.3,331.6 207.8,334.3 C209.3,337 210.4,338.2 211.5,340 C212.6,341.8 214.2,343.5 214.5,345.2 C214.8,346.9 214.2,349 213.1,350.3 C211.9,351.6 208.7,352.2 207.6,353 C206.5,353.8 206.5,354.7 206.3,355 C206.4,356.5 206.7,361.7 206.7,364 C206.7,366.3 207.5,367.1 206.3,368.6 C205.1,370.1 200.6,372.4 199.4,373.2 C200.2,373.8 203,375.7 204,376.9 C205,378.1 205.2,378.5 205.2,380.6 C205.2,382.7 204.4,386.9 204,389.7 C203.6,392.5 204,394.7 202.5,397.5 C201,400.3 198.3,403.8 195,406.2 C191.7,408.8 186.2,411.2 182.5,412.5 C178.8,413.8 175.8,414 172.5,414 C169.2,414 165.6,413.3 162.5,412.5 C159.4,411.7 155.2,409.9 153.8,409.4 C151.5,407.8 142.3,401.6 140,400 C133.3,400 106.7,400 100,400 C96,396 79.9,380.2 75.9,376.2 C70.8,368.5 50.1,337.7 45,330 C47.5,320 57.5,280 60,270 C70,266.7 110,253.3 120,250 C129.2,252.5 165.8,262.5 175,265 C176.5,267.3 182.5,276.7 184,279Z" fill="#fed4c2"/>
<path d="M190.4,281.6 C190.5,282.9 190.6,286.3 191,289.3 C191.4,292.3 192,296 193,299.6 C194,303.2 195.3,307 196.9,311.1 C198.5,315.2 200.8,320.1 202.6,324 C204.4,327.9 206.3,331.6 207.8,334.3 C209.3,337 210.4,338.2 211.5,340 C212.6,341.8 214.2,343.5 214.5,345.2 C214.8,346.9 214.2,349 213.1,350.3 C211.9,351.6 208.7,352.2 207.6,353 C206.5,353.8 206.5,354.7 206.3,355 C206.4,356.5 206.7,361.7 206.7,364 C206.7,366.3 207.5,367.1 206.3,368.6 C205.1,370.1 200.6,372.4 199.4,373.2 C200.2,373.8 203,375.7 204,376.9 C205,378.1 205.2,378.5 205.2,380.6 C205.2,382.7 204.4,386.9 204,389.7 C203.6,392.5 204,394.7 202.5,397.5 C201,400.3 198.3,403.8 195,406.2 C191.7,408.8 186.2,411.2 182.5,412.5 C178.8,413.8 175.8,414 172.5,414 C169.2,414 165.6,413.3 162.5,412.5 C159.4,411.7 155.2,409.9 153.8,409.4" fill="none" stroke="#d9a08c" stroke-width="0.6"/>
</g>
<path d="M298.6,370 C298.5,371.2 298.6,374.7 298,377 C297.4,379.3 296.4,381.4 295.2,383.6 C294,385.8 293,387.6 290.8,390.2 C288.6,392.8 285.3,395.7 282,399 C278.7,402.3 278.4,401.8 271,410 C263.6,418.2 243,441.8 237.4,448.1 M348.75,448.1 L367.5,418.75" fill="none" stroke="#d9a08c" stroke-width="0.6"/>
<path d="M307.3,319.4 C307.1,315.5 307.7,311.1 308.5,307.5 C309.3,303.9 310.7,300.8 312,298 C313.3,295.2 314.9,293.1 316.5,290.8 C318.1,288.6 319.7,286.6 321.5,284.5 C323.3,282.4 325.6,280.2 327.5,278.5 C329.4,276.8 331.2,275.4 333,274 C334.8,272.6 336.7,271.4 338.5,270.2 C340.3,269 342.2,267.9 344,267 C345.8,266.1 347.7,265.3 349.5,264.7 C351.3,264.1 353.2,263.9 355,263.6 C356.8,263.3 357.2,263.1 360.5,262.9 C363.8,262.7 370.1,262.4 375,262.5 C379.9,262.6 385.3,262.9 390,263.5 C394.7,264.1 399,265 403,266 C407,267 410.9,268.2 414,269.5 C417.1,270.8 419.4,272 421.9,273.5 C424.4,275 426.8,276.6 429,278.5 C431.2,280.4 433.2,282.5 435,285 C436.8,287.5 438.8,290.5 440,293.5 C441.2,296.5 441.9,299.8 442.5,303 C443.1,306.2 443.2,309.8 443.5,313 C443.8,316.2 443.8,319.2 444.5,322 C445.2,324.8 446.5,327.6 447.5,330 C448.5,332.4 451.4,335 450.7,336.7 C450,338.4 446.1,338.9 443.4,340.4 C440.6,341.9 438.8,343.9 434.2,345.9 C429.6,347.9 422,351.1 415.9,352.3 C409.8,353.5 402.1,351.5 397.5,353.2 C392.9,354.9 392.9,360.4 388.3,362.4 C383.7,364.4 374.1,363.6 370,365 C365.9,366.4 366.1,368.6 364,370.7 C361.9,372.8 362.6,376.4 357.2,377.4 C351.8,378.4 335.7,379.4 331.4,376.6 C327.1,373.8 332.9,364.5 331.3,360.6 C329.7,356.7 324.8,355.8 322,353.1 C319.2,350.4 316.8,348 314.7,344.3 C312.6,340.6 310.7,335.2 309.5,331.1 C308.3,327 307.5,323.3 307.3,319.4Z" fill="#efb29a"/><path d="M331.3,360.6 C329.8,359.4 324.8,355.8 322,353.1 C319.2,350.4 316.8,348 314.7,344.3 C312.6,340.6 310.7,335.2 309.5,331.1 C308.3,327 307.5,323.3 307.3,319.4 C307.1,315.5 307.7,311.1 308.5,307.5 C309.3,303.9 310.7,300.8 312,298 C313.3,295.2 314.9,293.1 316.5,290.8 C318.1,288.6 319.7,286.6 321.5,284.5 C323.3,282.4 325.6,280.2 327.5,278.5 C329.4,276.8 331.2,275.4 333,274 C334.8,272.6 336.7,271.4 338.5,270.2 C340.3,269 342.2,267.9 344,267 C345.8,266.1 347.7,265.3 349.5,264.7 C351.3,264.1 353.2,263.9 355,263.6 C356.8,263.3 357.2,263.1 360.5,262.9 C363.8,262.7 370.1,262.4 375,262.5 C379.9,262.6 385.3,262.9 390,263.5 C394.7,264.1 399,265 403,266 C407,267 410.9,268.2 414,269.5 C417.1,270.8 419.4,272 421.9,273.5 C424.4,275 426.8,276.6 429,278.5 C431.2,280.4 433.2,282.5 435,285 C436.8,287.5 438.8,290.5 440,293.5 C441.2,296.5 441.9,299.8 442.5,303 C443.1,306.2 443.2,309.8 443.5,313 C443.8,316.2 443.8,319.2 444.5,322 C445.2,324.8 446.5,327.6 447.5,330 C448.5,332.4 451.4,335 450.7,336.7 C450,338.4 446.1,338.9 443.4,340.4 C440.6,341.9 438.8,343.9 434.2,345.9 C429.6,347.9 422,351.1 415.9,352.3 C409.8,353.5 402.1,351.5 397.5,353.2 C392.9,354.9 392.9,360.4 388.3,362.4 C383.7,364.4 373.1,364.6 370,365" fill="none" stroke="#fff4ee" stroke-width="1.1"/>
<g transform="matrix(0.866 0.4847 -0.4847 0.866 434.85 -11.31)"><path d="M92,352 C93.3,350 100.5,353.7 106,354 C111.5,354.3 119.3,353.8 125,354 C130.7,354.2 136.5,355.2 140,355 C143.5,354.8 145,352.8 146,353 C147,353.2 147.3,354.9 146,356 C144.7,357.1 140.8,358.5 138,359.5 C135.2,360.5 131.3,359.9 129,362 C126.7,364.1 125.5,367.7 124,372 C122.5,376.3 122,384 120,388 C118,392 115,394.7 112,396 C109,397.3 104.7,398 102,396 C99.3,394 98.3,387.7 96,384 C93.7,380.3 87.7,377 88,374 C88.3,371 97.3,369.7 98,366 C98.7,362.3 90.7,354 92,352Z" fill="url(#orng)"/></g>
<path d="M370,350 C374,347.8 389.4,353.5 394,352 C398.6,350.5 392.7,342.8 397.5,341 C402.3,339.2 417.2,342 423,341 C428.8,340 429.5,338.5 432,335 C434.5,331.5 436.3,324.2 438,320 C439.7,315.8 440.5,308.7 442,310 C443.5,311.3 445.6,323.6 447,328 C448.4,332.4 451.3,334.6 450.7,336.7 C450.1,338.8 446.1,338.9 443.4,340.4 C440.6,341.9 438.8,343.9 434.2,345.9 C429.6,347.9 422,351.1 415.9,352.3 C409.8,353.5 402.1,351.5 397.5,353.2 C392.9,354.9 392.9,360.4 388.3,362.4 C383.7,364.4 373.1,367.1 370,365 C366.9,362.9 366,352.2 370,350Z" fill="url(#band2)"/>
<path d="M348,269 C352.2,267.6 357.5,267.4 362,267 C366.5,266.6 370.3,266.3 375,266.3 C379.7,266.3 385.3,266.5 390,267 C394.7,267.5 399,268.5 403,269.5 C407,270.5 411,271.8 414,273 C417,274.2 418.7,275.5 421,277 C423.3,278.5 425.9,280.1 428,282 C430.1,283.9 431.9,286.2 433.5,288.5 C435.1,290.8 436.5,293.4 437.5,296 C438.5,298.6 439.1,301.2 439.5,304 C439.9,306.8 440.1,310 439.8,313 C439.5,316 439.1,318.1 437.9,322 C436.7,325.9 434.8,333.3 432.4,336.7 C429.9,340.1 427.5,341.1 423.2,342.2 C418.9,343.2 411,342.9 406.7,343 C402.4,343.1 399,343 397.5,343 C396.9,345 396.9,353 393.9,355 C390.9,357 383.9,355.5 379.3,355 C374.7,354.5 370.6,353.2 366,352 C361.4,350.8 355.7,349.5 351.4,347.5 C347.1,345.5 344.4,342.9 340,340 C335.6,337.1 329.2,333 325,330 C320.8,327 316.5,325.3 314.5,322 C312.5,318.7 312.8,313.7 313,310 C313.2,306.3 314.2,303.2 315.5,300 C316.8,296.8 318.5,293.8 320.5,291 C322.5,288.2 324.8,285.6 327.5,283 C330.2,280.4 333.6,277.8 337,275.5 C340.4,273.2 343.8,270.4 348,269Z" fill="#e4dfd5" stroke="#b8ad9a" stroke-width="0.6"/>
<g clip-path="url(#brain2clip)"><g transform="matrix(0.866 0.4847 -0.4847 0.866 434.85 -11.31)"><use href="#tex"/></g></g>
<g transform="matrix(0.866 0.4847 -0.4847 0.866 434.85 -11.31)"><path d="M57,352 C58,350.7 61.2,350.6 65,350 C68.8,349.4 75.5,348.3 80,348.5 C84.5,348.7 87.8,349.5 92,351 C96.2,352.5 102.8,356.4 105,357.5 C104.2,358.8 101.7,362.8 100,365 C98.3,367.2 97.5,369.5 95,371 C92.5,372.5 88.3,373.8 85,374 C81.7,374.2 78.3,373.5 75,372 C71.7,370.5 67.7,367.3 65,365 C62.3,362.7 60.3,360.2 59,358 C57.7,355.8 56,353.3 57,352Z" fill="#979aa2" stroke="#5a5b63" stroke-width="0.8"/>
<path d="M57.5,351.9 C58.2,351.8 60.1,351.4 61.8,351.3 C63.5,351.1 65.7,351 67.6,351 C69.6,350.9 71.5,350.8 73.5,350.8 C75.5,350.8 77.5,350.8 79.5,351 C81.5,351.2 83.7,351.5 85.5,351.8 C87.3,352.2 89,352.5 90.5,352.9 C92,353.3 93.2,353.6 94.6,354 C95.9,354.4 97.4,355 98.6,355.4 C99.8,355.8 100.8,356.2 101.7,356.5 C102.6,356.7 103.3,356.9 103.9,357.1 C104.4,357.3 104.8,357.4 105,357.5 M57.5,352.2 C58.2,352.2 60,352.3 61.6,352.4 C63.2,352.4 65.3,352.5 67.2,352.6 C69.1,352.7 71,352.8 73,353 C75,353.1 77,353.2 79,353.4 C81,353.6 83.2,354 85,354.3 C86.8,354.6 88.5,354.9 90,355.2 C91.5,355.5 92.8,355.7 94.2,356 C95.6,356.3 97,356.8 98.2,357 C99.4,357.3 100.5,357.4 101.4,357.5 C102.3,357.6 103.1,357.6 103.7,357.6 C104.3,357.6 104.8,357.5 105,357.5 M57.5,352.5 C58.1,352.7 59.9,353.1 61.4,353.4 C62.9,353.7 65,354 66.8,354.3 C68.6,354.6 70.5,354.8 72.5,355.1 C74.5,355.3 76.5,355.5 78.5,355.8 C80.5,356 82.7,356.4 84.5,356.7 C86.3,357 88,357.3 89.5,357.5 C91,357.8 92.4,357.9 93.8,358.1 C95.2,358.2 96.6,358.6 97.8,358.7 C99,358.7 100.1,358.7 101.1,358.6 C102.1,358.5 102.9,358.2 103.5,358.1 C104.2,357.9 104.8,357.6 105,357.5 M57.5,352.9 C58.1,353.2 59.7,354 61.2,354.5 C62.7,355 64.6,355.5 66.4,356 C68.2,356.4 70.1,356.9 72,357.2 C73.9,357.6 76,357.8 78,358.2 C80,358.5 82.2,358.9 84,359.2 C85.8,359.4 87.4,359.7 89,359.8 C90.6,360 92,360 93.4,360.1 C94.8,360.2 96.2,360.4 97.4,360.3 C98.6,360.2 99.8,359.9 100.8,359.6 C101.8,359.4 102.7,358.9 103.4,358.6 C104.1,358.2 104.7,357.7 105,357.5 M57.5,353.2 C58.1,353.6 59.6,354.9 61,355.6 C62.4,356.3 64.2,357 66,357.6 C67.8,358.3 69.6,358.9 71.5,359.4 C73.4,359.8 75.5,360.2 77.5,360.6 C79.5,360.9 81.7,361.3 83.5,361.6 C85.3,361.9 86.9,362.1 88.5,362.1 C90.1,362.2 91.6,362.1 93,362.1 C94.4,362.1 95.8,362.1 97,361.9 C98.2,361.7 99.5,361.2 100.5,360.7 C101.5,360.2 102.5,359.6 103.2,359.1 C104,358.5 104.7,357.8 105,357.5 M57.5,353.6 C58,354.1 59.4,355.7 60.8,356.7 C62.1,357.6 63.9,358.5 65.6,359.3 C67.3,360.1 69.1,360.9 71,361.5 C72.9,362.1 75,362.5 77,362.9 C79,363.4 81.2,363.8 83,364 C84.8,364.3 86.4,364.4 88,364.5 C89.6,364.5 91.2,364.3 92.6,364.1 C94,364 95.3,363.9 96.6,363.5 C97.9,363.1 99.1,362.4 100.2,361.8 C101.3,361.1 102.3,360.2 103.1,359.5 C103.9,358.8 104.7,357.8 105,357.5 M57.5,353.9 C58,354.6 59.3,356.6 60.6,357.8 C61.9,358.9 63.6,360 65.2,361 C66.9,362 68.6,362.9 70.5,363.6 C72.4,364.3 74.5,364.9 76.5,365.3 C78.5,365.8 80.7,366.2 82.5,366.5 C84.3,366.7 85.9,366.8 87.5,366.8 C89.1,366.7 90.8,366.4 92.2,366.1 C93.7,365.9 94.9,365.7 96.2,365.1 C97.5,364.6 98.8,363.7 99.9,362.8 C101,362 102.1,360.9 103,360 C103.8,359.1 104.7,357.9 105,357.5 M57.5,354.3 C58,355.1 59.2,357.4 60.4,358.8 C61.6,360.2 63.2,361.5 64.8,362.7 C66.4,363.8 68.1,364.9 70,365.7 C71.9,366.6 74,367.2 76,367.7 C78,368.2 80.2,368.7 82,368.9 C83.8,369.1 85.4,369.2 87,369.1 C88.6,369 90.3,368.5 91.8,368.2 C93.3,367.8 94.5,367.5 95.8,366.8 C97.1,366 98.4,364.9 99.6,363.9 C100.8,362.8 101.9,361.6 102.8,360.5 C103.7,359.5 104.6,358 105,357.5 M57.5,354.6 C58,355.5 59,358.3 60.2,359.9 C61.3,361.5 62.9,363 64.4,364.3 C66,365.7 67.7,366.9 69.5,367.9 C71.3,368.8 73.5,369.5 75.5,370.1 C77.5,370.7 79.7,371.1 81.5,371.4 C83.3,371.6 84.8,371.6 86.5,371.4 C88.2,371.2 89.9,370.7 91.4,370.2 C92.9,369.7 94.1,369.3 95.4,368.4 C96.7,367.5 98.1,366.2 99.3,364.9 C100.5,363.7 101.7,362.2 102.7,361 C103.6,359.8 104.6,358.1 105,357.5" fill="none" stroke="#f0f0f3" stroke-width="0.95"/>
<path d="M100.8,370 L116.5,367 L114.6,394.8 L102.6,395Z" fill="#d3cec3" stroke="#b5ae9f" stroke-width="0.5"/>
<ellipse cx="111.5" cy="366.8" rx="10.6" ry="10.3" fill="#dad5ca" stroke="#b5ae9f" stroke-width="0.5"/>
<path d="M110,375 L119,360 M112,375 L121,363 M114,375.5 L122,367" stroke="#fff" stroke-width="0.8"/></g>
<g clip-path="url(#skull2clip)"><g filter="url(#blur4)" opacity="0.9"><path d="M317,306 C320,294 327,283 341,274 C349,270 356,268.5 364,268" fill="none" stroke="#f01010" stroke-width="11" stroke-linecap="round"/>
<path d="M434,282 C441,295 444,312 440,330" fill="none" stroke="#f01010" stroke-width="8" stroke-linecap="round"/></g></g>
<path d="M331.3,360.6 C329.8,359.4 324.8,355.8 322,353.1 C319.2,350.4 316.8,348 314.7,344.3 C312.6,340.6 310.7,335.2 309.5,331.1 C308.3,327 307.5,323.3 307.3,319.4 C307.1,315.5 307.7,311.1 308.5,307.5 C309.3,303.9 310.7,300.8 312,298 C313.3,295.2 314.9,293.1 316.5,290.8 C318.1,288.6 319.7,286.6 321.5,284.5 C323.3,282.4 325.6,280.2 327.5,278.5 C329.4,276.8 331.2,275.4 333,274 C334.8,272.6 336.7,271.4 338.5,270.2 C340.3,269 342.2,267.9 344,267 C345.8,266.1 347.7,265.3 349.5,264.7 C351.3,264.1 353.2,263.9 355,263.6 C356.8,263.3 357.2,263.1 360.5,262.9 C363.8,262.7 370.1,262.4 375,262.5 C379.9,262.6 385.3,262.9 390,263.5 C394.7,264.1 399,265 403,266 C407,267 410.9,268.2 414,269.5 C417.1,270.8 419.4,272 421.9,273.5 C424.4,275 426.8,276.6 429,278.5 C431.2,280.4 433.2,282.5 435,285 C436.8,287.5 438.8,290.5 440,293.5 C441.2,296.5 441.9,299.8 442.5,303 C443.1,306.2 443.2,309.8 443.5,313 C443.8,316.2 443.8,319.2 444.5,322 C445.2,324.8 446.5,327.6 447.5,330 C448.5,332.4 451.4,335 450.7,336.7 C450,338.4 446.1,338.9 443.4,340.4 C440.6,341.9 438.8,343.9 434.2,345.9 C429.6,347.9 422,351.1 415.9,352.3 C409.8,353.5 402.1,351.5 397.5,353.2 C392.9,354.9 392.9,360.4 388.3,362.4 C383.7,364.4 373.1,364.6 370,365" fill="none" stroke="#fff4ee" stroke-width="1.1"/>
</g>
<path d="M357.5,283.4 L368.0,283.0 L377.9,283.4 L388.8,284.6 L398.5,286.7 L405.4,289.1 L411.6,292.2 L415.1,295.7 L417.9,299.9 L420.9,297.9 L417.9,293.3 L413.4,289.4 L406.6,286.1 L399.1,283.9 L389.2,282.2 L378.1,281.4 L368.0,281.6 L357.5,283.0Z" fill="#fff"/>
<path d="M413.9,302.3 L428.3,309.2 L424.9,295.4Z" fill="#fff"/>
<path d="M434.5,321.4 L424.0,320.9 L412.6,319.9 L401.1,318.9 L392.2,317.4 L380.4,314.8 L372.0,312.1 L364.5,308.5 L358.9,305.2 L353.2,299.5 L349.8,302.9 L356.1,308.8 L362.5,312.5 L370.6,315.9 L379.6,318.4 L391.6,320.4 L400.9,321.5 L412.4,321.9 L424.0,322.1 L434.5,321.8Z" fill="#fff"/>
<path d="M356.1,296.8 L338.2,285.8 L343.1,303.7Z" fill="#fff"/>
<path d="M291.5,370.2 C291.2,369.8 290.4,370.4 290,367.9 C289.6,365.4 289.5,360.2 289.2,355 C288.9,349.8 288.5,342.9 288.3,336.7 C288.1,330.5 287.6,324.1 287.8,318 C288,311.9 288.6,305.7 289.6,300 C290.6,294.3 291.8,289.4 293.8,284 C295.8,278.6 298.4,273 301.5,267.5 C304.6,262 309.4,255 312.5,251 C315.6,247 316.7,246.6 320,243.8 C323.3,240.9 328.3,236.6 332.5,233.8 C336.7,230.9 340.8,228.7 345,226.9 C349.2,225.1 353.3,223.9 357.5,223.1 C361.7,222.3 365.8,222.2 370,222.2 C374.2,222.2 378.3,222.5 382.5,223.1 C386.7,223.7 390.8,224.7 395,225.6 C399.2,226.5 403.3,227.5 407.5,228.8 C411.7,230 415.9,231.1 420,233 C424.1,234.9 428.5,237.4 432,240 C435.5,242.6 438.2,245.3 441,248.5 C443.8,251.7 446.5,255.2 448.9,259 C451.3,262.8 453.6,266.6 455.5,271.5 C457.4,276.4 459.1,282.8 460.3,288.4 C461.5,294 462.2,300.6 462.7,305 C463.1,309.4 463.2,312.1 463,315 C462.8,317.9 461.8,321.1 461.6,322.3 C460.8,321.4 458,320.1 456.5,317.1 C455,314.1 454.2,308.2 452.6,304.3 C451,300.4 449.1,297.2 447,294 C444.9,290.8 442.1,287.5 439.7,285 C437.3,282.5 435.4,281.2 432.4,279 C429.3,276.8 425.7,274.1 421.4,272 C417.1,269.9 412.2,267.9 406.7,266.5 C401.2,265.1 393.6,264.2 388.3,263.5 C383,262.8 379.6,262.4 375,262.2 C370.4,262 364.8,262 360.5,262.3 C356.2,262.6 353.2,262.8 349.5,264 C345.8,265.2 342.2,267 338.5,269.3 C334.8,271.6 331.2,274.3 327.5,277.8 C323.8,281.3 319.8,285.3 316.5,290.1 C313.2,294.9 309.5,302.2 307.8,306.5 C306.1,310.8 306.4,312.2 306.3,316 C306.2,319.8 306.4,324.7 307.3,329.4 C308.2,334.1 310.2,340.3 311.8,344 C313.4,347.7 316.1,350.2 317,351.4 C316.3,352.3 315,354.7 313,357 C311,359.3 307.4,362.8 305,365 C302.6,367.2 300.8,369.5 298.5,370.4 C296.2,371.3 292.7,370.2 291.5,370.2Z" fill="#7f4934" stroke="#3b1a0c" stroke-width="0.7"/>
<path d="M291.5,370.2 C291.4,369.8 290.8,370.4 290.6,367.9 C290.4,365.4 290.4,360.2 290.2,355 C290,349.8 289.5,342.9 289.3,336.7 C289.1,330.5 288.6,324.1 288.9,318 C289.2,311.9 290.1,304.2 291,300 C291.9,295.8 292.8,296.5 294.3,292.9 C295.8,289.3 297.6,283.1 299.8,278.5 C302,273.9 304.4,269.3 307.5,265.3 C310.6,261.3 314.8,257.1 318.5,254.3 C322.2,251.6 327.1,250.1 330,248.8 C332.9,247.5 333.9,247.7 336,246.5 C338.1,245.3 340,243.7 342.5,241.9 C345,240.1 348.8,236.8 351.2,235.6 C353.8,234.3 354.4,234.5 357.5,234.4 C360.6,234.3 365.8,234.4 370,235 C374.2,235.6 378.3,237.1 382.5,238.1 C386.7,239.1 390.8,240.1 395,241.2 C399.2,242.4 403.3,243.8 407.5,245 C411.7,246.2 416.2,247.6 420,248.8 C423.8,249.9 426.7,250.3 430,252 C433.3,253.7 437.2,256.3 440,259 C442.8,261.7 445,265 447,268 C449,271 450.5,273.7 452,277 C453.5,280.3 454.9,284.2 456,288 C457.1,291.8 457.8,296 458.5,300 C459.2,304 459.5,308.3 460,312 C460.5,315.7 461.3,320.6 461.6,322.3 C460.8,321.4 458,320.1 456.5,317.1 C455,314.1 454.2,308.2 452.6,304.3 C451,300.4 449.1,297.2 447,294 C444.9,290.8 442.1,287.5 439.7,285 C437.3,282.5 435.4,281.2 432.4,279 C429.3,276.8 425.7,274.1 421.4,272 C417.1,269.9 412.2,267.9 406.7,266.5 C401.2,265.1 393.6,264.2 388.3,263.5 C383,262.8 379.6,262.4 375,262.2 C370.4,262 364.8,262 360.5,262.3 C356.2,262.6 353.2,262.8 349.5,264 C345.8,265.2 342.2,267 338.5,269.3 C334.8,271.6 331.2,274.3 327.5,277.8 C323.8,281.3 319.8,285.3 316.5,290.1 C313.2,294.9 309.5,302.2 307.8,306.5 C306.1,310.8 306.4,312.2 306.3,316 C306.2,319.8 306.4,324.7 307.3,329.4 C308.2,334.1 310.2,340.3 311.8,344 C313.4,347.7 316.1,350.2 317,351.4 C316.3,352.3 315,354.7 313,357 C311,359.3 307.4,362.8 305,365 C302.6,367.2 300.8,369.5 298.5,370.4 C296.2,371.3 292.7,370.2 291.5,370.2Z" fill="#66290f"/>
<path d="M336.3,215 C350,207 365,204.5 382.5,204.3 C400,204.5 415,210 426,219 L433.5,214.5 L441,235.5 L420,226.5 L421.5,225 C410,216 398,209.8 382.5,207 C368,206.8 352,209.5 336.3,215Z" fill="#ee1111"/>
<text x="372.5" y="191.5" font-family="Liberation Sans" font-size="16.5" fill="#111" textLength="35.5" lengthAdjust="spacingAndGlyphs">Force</text>
<circle cx="461.6" cy="326.8" r="10.3" fill="none" stroke="#c92327" stroke-width="1.05"/>
<circle cx="461.6" cy="326.8" r="15.7" fill="none" stroke="#c92327" stroke-width="1.05"/>
<circle cx="461.6" cy="326.8" r="20.6" fill="none" stroke="#c92327" stroke-width="1.05"/>
<circle cx="461.6" cy="326.8" r="24" fill="none" stroke="#c92327" stroke-width="1.05"/>
<circle cx="461.6" cy="326.8" r="5.4" fill="#ee0000"/>
<circle cx="749.4" cy="286.8" r="29.2" fill="url(#ball)" stroke="#cfcfcf" stroke-width="0.7"/>
<path d="M754.9,260.3 C754.7,261.3 754.6,264.1 753.5,266.5 C752.4,268.9 750.1,272.1 748,274.8 C745.9,277.6 743.4,280.5 741.1,283 C738.8,285.5 736.1,287.6 734.3,289.9 C732.5,292.2 730.9,294.5 730.1,296.8 C729.3,299.1 729.2,301.6 729.4,303.6 C729.6,305.7 730.2,307.4 731.5,309.1 C732.8,310.8 734.7,312.9 737,314 C739.3,315.1 742.6,315.7 745.3,316 C748,316.3 750.5,316 753,315.8 C755.5,315.6 759.2,314.8 760.4,314.6" fill="none" stroke="#2a2758" stroke-width="0.9"/>
<path d="M754.3,260.2 L752.5,258.3 M755.5,260.4 L757.9,259.6 M753.6,263.3 L751.8,261.4 M754.8,263.5 L757.2,262.7 M753.0,266.2 L751.9,263.8 M754.0,266.8 L756.6,266.9 M750.2,270.3 L749.2,267.9 M751.3,271.0 L753.9,271.0 M747.5,274.4 L746.8,271.9 M748.5,275.2 L751.0,275.5 M744.1,278.5 L743.3,276.0 M745.0,279.3 L747.6,279.6 M740.7,282.6 L740.1,280.0 M741.5,283.4 L744.1,284.0 M737.3,286.0 L736.7,283.5 M738.1,286.9 L740.7,287.4 M733.8,289.6 L732.6,287.2 M734.8,290.2 L737.4,290.2 M731.7,293.0 L730.5,290.7 M732.7,293.7 L735.3,293.6 M729.5,296.7 L727.5,295.1 M730.7,296.9 L733.0,295.7 M729.2,300.1 L727.1,298.5 M730.3,300.3 L732.7,299.1 M728.8,303.8 L726.3,303.3 M730.0,303.4 L731.5,301.3 M729.9,306.6 L727.3,306.0 M731.0,306.1 L732.6,304.0 M731.1,309.5 L728.6,310.3 M731.9,308.7 L732.3,306.1 M733.9,312.0 L731.3,312.7 M734.6,311.1 L735.1,308.5 M736.9,314.6 L735.0,316.4 M737.1,313.4 L736.3,310.9 M741.0,315.6 L739.1,317.4 M741.3,314.4 L740.4,311.9 M745.3,316.6 L744.0,318.8 M745.3,315.4 L743.8,313.2 M749.2,316.5 L747.8,318.7 M749.1,315.3 L747.7,313.1 M753.1,316.4 L752.1,318.8 M752.9,315.2 L751.2,313.3 M756.8,315.8 L755.8,318.2 M756.6,314.6 L754.9,312.7" stroke="#c0302a" stroke-width="0.95" fill="none"/>
<circle cx="717.7" cy="294.7" r="10.5" fill="none" stroke="#c92327" stroke-width="1.05"/>
<circle cx="717.7" cy="294.7" r="16.7" fill="none" stroke="#c92327" stroke-width="1.05"/>
<circle cx="717.7" cy="294.7" r="23.7" fill="none" stroke="#c92327" stroke-width="1.05"/>
<circle cx="717.7" cy="294.7" r="6.4" fill="#ee0000"/>
<path d="M710.3,243.6 L717,231.8 L719,235.4 L761.6,220.5 L763.7,229.8 L722,243.1 L723.6,248.8Z" fill="url(#blue)"/>
<text transform="translate(720.3,229.3) rotate(-19.5)" font-family="Liberation Sans" font-size="17" fill="#111" textLength="36" lengthAdjust="spacingAndGlyphs">Force</text>
<g transform="translate(79.83,500.50) scale(1.1581,1.0000)" fill="none" stroke="#000" stroke-width="1.55" stroke-linecap="round" stroke-linejoin="round"><g transform="translate(0.00,0)"><path d="M1,0 L1.3,-12.8 L9.4,-0.2 L9.8,-12.9"/></g><g transform="translate(11.40,0)"><ellipse cx="4" cy="-4.4" rx="3.5" ry="4.1"/></g><g transform="translate(19.80,0)"><path d="M1,-8.6 L1.1,0 M1.2,-5.4 C2,-7.8 3.5,-8.8 5.2,-8.8 C5.8,-8.8 6.3,-8.6 6.7,-8.2"/></g><g transform="translate(26.80,0)"><path d="M1,-8.7 L1.1,0 M1.1,-6 C1.8,-8 2.8,-8.8 4,-8.8 C5.3,-8.8 6,-7.8 6,-6 L6.1,0 M6.1,-6 C6.8,-8 7.8,-8.8 9,-8.8 C10.4,-8.8 11.1,-7.6 11.1,-5.8 L11.2,0"/></g><g transform="translate(39.40,0)"><path d="M6.8,-7.2 C6,-8.4 5,-8.8 4,-8.8 C1.7,-8.8 0.5,-6.5 0.5,-4.2 C0.5,-1.6 2,0 3.8,0 C5.4,0 6.5,-1.5 6.9,-3.6 M7,-8.7 L7.3,0"/></g><g transform="translate(48.10,0)"><path d="M1.1,-13.3 L1.3,0"/></g></g>
<g transform="translate(224.63,500.30) scale(1.1549,1.0000)" fill="none" stroke="#000" stroke-width="1.55" stroke-linecap="round" stroke-linejoin="round"><g transform="translate(0.00,0)"><path d="M0.4,0 L4.8,-12.9 L9.1,0 M2,-4.3 L7.6,-4.5"/></g><g transform="translate(9.90,0)"><path d="M7,-7.3 C6.1,-8.3 5.1,-8.8 4,-8.8 C1.8,-8.8 0.5,-6.8 0.5,-4.4 C0.5,-1.8 2,0 4.2,0 C5.4,0 6.4,-0.6 7.2,-1.5"/></g><g transform="translate(17.80,0)"><path d="M7,-7.3 C6.1,-8.3 5.1,-8.8 4,-8.8 C1.8,-8.8 0.5,-6.8 0.5,-4.4 C0.5,-1.8 2,0 4.2,0 C5.4,0 6.4,-0.6 7.2,-1.5"/></g><g transform="translate(25.70,0)"><path d="M0.9,-4.3 L7.4,-4.7 C7.3,-7.2 6,-8.8 4,-8.8 C1.8,-8.8 0.6,-6.8 0.6,-4.4 C0.6,-1.8 2,0 4.3,0 C5.6,0 6.6,-0.5 7.4,-1.5"/></g><g transform="translate(34.00,0)"><path d="M1.1,-13.3 L1.3,0"/></g><g transform="translate(37.40,0)"><path d="M0.9,-4.3 L7.4,-4.7 C7.3,-7.2 6,-8.8 4,-8.8 C1.8,-8.8 0.6,-6.8 0.6,-4.4 C0.6,-1.8 2,0 4.3,0 C5.6,0 6.6,-0.5 7.4,-1.5"/></g><g transform="translate(45.70,0)"><path d="M1,-8.6 L1.1,0 M1.2,-5.4 C2,-7.8 3.5,-8.8 5.2,-8.8 C5.8,-8.8 6.3,-8.6 6.7,-8.2"/></g><g transform="translate(52.70,0)"><path d="M6.8,-7.2 C6,-8.4 5,-8.8 4,-8.8 C1.7,-8.8 0.5,-6.5 0.5,-4.2 C0.5,-1.6 2,0 3.8,0 C5.4,0 6.5,-1.5 6.9,-3.6 M7,-8.7 L7.3,0"/></g><g transform="translate(61.40,0)"><path d="M3.2,-12.2 L3.4,0 M0.4,-8.4 L6.6,-8.7"/></g><g transform="translate(68.40,0)"><path d="M1.2,-8.5 L1.3,0"/><circle fill="#000" stroke="none" cx="1.25" cy="-11.6" r="1"/></g><g transform="translate(71.70,0)"><ellipse cx="4" cy="-4.4" rx="3.5" ry="4.1"/></g><g transform="translate(80.10,0)"><path d="M1,-8.7 L1.1,0 M1.2,-5.8 C2,-8 3.4,-8.8 5,-8.8 C6.6,-8.8 7.4,-7.6 7.4,-5.6 L7.5,0"/></g><g transform="translate(89.00,0)"><path d="M0.8,-4.9 L5.8,-4.9"/></g><g transform="translate(95.60,0)"><path d="M7,-7.2 C6.2,-8.4 5.2,-8.8 4.1,-8.8 C1.8,-8.8 0.5,-6.5 0.5,-4.2 C0.5,-1.6 2,0 3.9,0 C5.5,0 6.6,-1.5 7,-3.6 M7.1,-13.3 L7.4,0"/></g><g transform="translate(104.50,0)"><path d="M0.9,-4.3 L7.4,-4.7 C7.3,-7.2 6,-8.8 4,-8.8 C1.8,-8.8 0.6,-6.8 0.6,-4.4 C0.6,-1.8 2,0 4.3,0 C5.6,0 6.6,-0.5 7.4,-1.5"/></g><g transform="translate(112.80,0)"><path d="M7,-7.3 C6.1,-8.3 5.1,-8.8 4,-8.8 C1.8,-8.8 0.5,-6.8 0.5,-4.4 C0.5,-1.8 2,0 4.2,0 C5.4,0 6.4,-0.6 7.2,-1.5"/></g><g transform="translate(120.70,0)"><path d="M0.9,-4.3 L7.4,-4.7 C7.3,-7.2 6,-8.8 4,-8.8 C1.8,-8.8 0.6,-6.8 0.6,-4.4 C0.6,-1.8 2,0 4.3,0 C5.6,0 6.6,-0.5 7.4,-1.5"/></g><g transform="translate(129.00,0)"><path d="M1.1,-13.3 L1.3,0"/></g><g transform="translate(132.40,0)"><path d="M0.9,-4.3 L7.4,-4.7 C7.3,-7.2 6,-8.8 4,-8.8 C1.8,-8.8 0.6,-6.8 0.6,-4.4 C0.6,-1.8 2,0 4.3,0 C5.6,0 6.6,-0.5 7.4,-1.5"/></g><g transform="translate(140.70,0)"><path d="M1,-8.6 L1.1,0 M1.2,-5.4 C2,-7.8 3.5,-8.8 5.2,-8.8 C5.8,-8.8 6.3,-8.6 6.7,-8.2"/></g><g transform="translate(147.70,0)"><path d="M6.8,-7.2 C6,-8.4 5,-8.8 4,-8.8 C1.7,-8.8 0.5,-6.5 0.5,-4.2 C0.5,-1.6 2,0 3.8,0 C5.4,0 6.5,-1.5 6.9,-3.6 M7,-8.7 L7.3,0"/></g><g transform="translate(156.40,0)"><path d="M3.2,-12.2 L3.4,0 M0.4,-8.4 L6.6,-8.7"/></g><g transform="translate(163.40,0)"><path d="M1.2,-8.5 L1.3,0"/><circle fill="#000" stroke="none" cx="1.25" cy="-11.6" r="1"/></g><g transform="translate(166.70,0)"><ellipse cx="4" cy="-4.4" rx="3.5" ry="4.1"/></g><g transform="translate(175.10,0)"><path d="M1,-8.7 L1.1,0 M1.2,-5.8 C2,-8 3.4,-8.8 5,-8.8 C6.6,-8.8 7.4,-7.6 7.4,-5.6 L7.5,0"/></g><g transform="translate(188.60,0)"><path d="M1.2,-8.5 L1.3,0"/><circle fill="#000" stroke="none" cx="1.25" cy="-11.6" r="1"/></g><g transform="translate(191.90,0)"><path d="M1,-8.7 L1.1,0 M1.2,-5.8 C2,-8 3.4,-8.8 5,-8.8 C6.6,-8.8 7.4,-7.6 7.4,-5.6 L7.5,0"/></g><g transform="translate(200.80,0)"><path d="M3.4,-8.5 L3.4,1.6 C3.4,3.6 2.3,4.3 0.9,4.3 C0.3,4.3 -0.3,3.9 -0.6,3.4"/><circle fill="#000" stroke="none" cx="3.45" cy="-11.6" r="1"/></g><g transform="translate(205.80,0)"><path d="M1,-8.7 L1,-3.3 C1,-1.1 2.2,0 4,0 C5.8,0 7,-1.5 7.3,-3.9 M7.4,-8.7 L7.5,0"/></g><g transform="translate(214.70,0)"><path d="M1,-8.6 L1.1,0 M1.2,-5.4 C2,-7.8 3.5,-8.8 5.2,-8.8 C5.8,-8.8 6.3,-8.6 6.7,-8.2"/></g><g transform="translate(221.70,0)"><path d="M0.6,-8.7 L4,-0.7 M7.6,-8.7 L3.3,4.4"/></g></g>
<g transform="translate(565.93,500.50) scale(1.1384,1.0000)" fill="none" stroke="#000" stroke-width="1.55" stroke-linecap="round" stroke-linejoin="round"><g transform="translate(0.00,0)"><path d="M1.2,-12.6 L1.2,0 M0.6,-12.8 C6.5,-13 10,-10 10,-6.4 C10,-2.5 6.5,0 1,0"/></g><g transform="translate(11.20,0)"><path d="M1.2,-8.5 L1.3,0"/><circle fill="#000" stroke="none" cx="1.25" cy="-11.6" r="1"/></g><g transform="translate(14.50,0)"><path d="M1,-8.6 L1.1,0 M1.2,-5.4 C2,-7.8 3.5,-8.8 5.2,-8.8 C5.8,-8.8 6.3,-8.6 6.7,-8.2"/></g><g transform="translate(21.50,0)"><path d="M0.9,-4.3 L7.4,-4.7 C7.3,-7.2 6,-8.8 4,-8.8 C1.8,-8.8 0.6,-6.8 0.6,-4.4 C0.6,-1.8 2,0 4.3,0 C5.6,0 6.6,-0.5 7.4,-1.5"/></g><g transform="translate(29.80,0)"><path d="M7,-7.3 C6.1,-8.3 5.1,-8.8 4,-8.8 C1.8,-8.8 0.5,-6.8 0.5,-4.4 C0.5,-1.8 2,0 4.2,0 C5.4,0 6.4,-0.6 7.2,-1.5"/></g><g transform="translate(37.70,0)"><path d="M3.2,-12.2 L3.4,0 M0.4,-8.4 L6.6,-8.7"/></g><g transform="translate(49.30,0)"><path d="M1.2,-8.5 L1.3,0"/><circle fill="#000" stroke="none" cx="1.25" cy="-11.6" r="1"/></g><g transform="translate(52.60,0)"><path d="M1,-8.7 L1.1,0 M1.1,-6 C1.8,-8 2.8,-8.8 4,-8.8 C5.3,-8.8 6,-7.8 6,-6 L6.1,0 M6.1,-6 C6.8,-8 7.8,-8.8 9,-8.8 C10.4,-8.8 11.1,-7.6 11.1,-5.8 L11.2,0"/></g><g transform="translate(65.20,0)"><path d="M1.2,-8.7 L1.3,4.3 M1.3,-5.5 C1.8,-7.8 3.2,-8.8 4.7,-8.8 C6.8,-8.8 8,-7 8,-4.4 C8,-1.7 6.6,0 4.5,0 C3,0 1.9,-0.6 1.4,-1.6"/></g><g transform="translate(74.30,0)"><path d="M6.8,-7.2 C6,-8.4 5,-8.8 4,-8.8 C1.7,-8.8 0.5,-6.5 0.5,-4.2 C0.5,-1.6 2,0 3.8,0 C5.4,0 6.5,-1.5 6.9,-3.6 M7,-8.7 L7.3,0"/></g><g transform="translate(83.00,0)"><path d="M7,-7.3 C6.1,-8.3 5.1,-8.8 4,-8.8 C1.8,-8.8 0.5,-6.8 0.5,-4.4 C0.5,-1.8 2,0 4.2,0 C5.4,0 6.4,-0.6 7.2,-1.5"/></g><g transform="translate(90.90,0)"><path d="M3.2,-12.2 L3.4,0 M0.4,-8.4 L6.6,-8.7"/></g><g transform="translate(102.50,0)"><path d="M1.2,-8.5 L1.3,0"/><circle fill="#000" stroke="none" cx="1.25" cy="-11.6" r="1"/></g><g transform="translate(105.80,0)"><path d="M1,-8.7 L1.1,0 M1.2,-5.8 C2,-8 3.4,-8.8 5,-8.8 C6.6,-8.8 7.4,-7.6 7.4,-5.6 L7.5,0"/></g><g transform="translate(114.70,0)"><path d="M3.4,-8.5 L3.4,1.6 C3.4,3.6 2.3,4.3 0.9,4.3 C0.3,4.3 -0.3,3.9 -0.6,3.4"/><circle fill="#000" stroke="none" cx="3.45" cy="-11.6" r="1"/></g><g transform="translate(119.70,0)"><path d="M1,-8.7 L1,-3.3 C1,-1.1 2.2,0 4,0 C5.8,0 7,-1.5 7.3,-3.9 M7.4,-8.7 L7.5,0"/></g><g transform="translate(128.60,0)"><path d="M1,-8.6 L1.1,0 M1.2,-5.4 C2,-7.8 3.5,-8.8 5.2,-8.8 C5.8,-8.8 6.3,-8.6 6.7,-8.2"/></g><g transform="translate(135.60,0)"><path d="M0.6,-8.7 L4,-0.7 M7.6,-8.7 L3.3,4.4"/></g></g>
</svg>
</body></html>
